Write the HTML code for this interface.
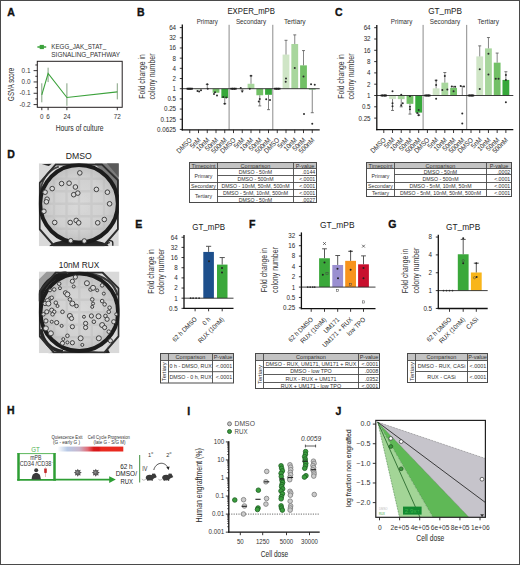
<!DOCTYPE html>
<html><head><meta charset="utf-8"><style>
html,body{margin:0;padding:0;background:#fff;}
svg{display:block;font-family:"Liberation Sans",sans-serif;}
</style></head><body>
<svg width="520" height="565" viewBox="0 0 520 565">
<rect x="0" y="0" width="520" height="565" fill="#fff"/>
<text x="7.30" y="16.20" font-size="10.5" font-weight="bold" fill="#111" stroke="#111" stroke-width="0.35">A</text>
<line x1="37.40" y1="47.00" x2="46.20" y2="47.00" stroke="#3ca23c" stroke-width="1.5"/>
<rect x="39.70" y="44.90" width="4.20" height="4.20" fill="#3ca23c"/>
<text x="51.30" y="49.00" font-size="6.6" fill="#333" textLength="54.80" lengthAdjust="spacingAndGlyphs">KEGG<tspan dy="-0.73">_</tspan><tspan dy="0.73">​</tspan>JAK<tspan dy="-0.73">_</tspan><tspan dy="0.73">​</tspan>STAT<tspan dy="-0.73">_</tspan><tspan dy="0.73">​</tspan></text>
<text x="51.30" y="56.80" font-size="6.6" fill="#333" textLength="68.80" lengthAdjust="spacingAndGlyphs">SIGNALING<tspan dy="-0.73">_</tspan><tspan dy="0.73">​</tspan>PATHWAY</text>
<rect x="37.30" y="61.30" width="84.90" height="46.00" fill="none" stroke="#231f20" stroke-width="1.0"/>
<line x1="35.30" y1="64.97" x2="37.30" y2="64.97" stroke="#231f20" stroke-width="0.9"/>
<line x1="33.60" y1="70.63" x2="37.30" y2="70.63" stroke="#231f20" stroke-width="0.9"/>
<line x1="35.30" y1="76.29" x2="37.30" y2="76.29" stroke="#231f20" stroke-width="0.9"/>
<line x1="33.60" y1="81.95" x2="37.30" y2="81.95" stroke="#231f20" stroke-width="0.9"/>
<line x1="35.30" y1="87.61" x2="37.30" y2="87.61" stroke="#231f20" stroke-width="0.9"/>
<line x1="33.60" y1="93.27" x2="37.30" y2="93.27" stroke="#231f20" stroke-width="0.9"/>
<line x1="35.30" y1="98.93" x2="37.30" y2="98.93" stroke="#231f20" stroke-width="0.9"/>
<line x1="33.60" y1="104.59" x2="37.30" y2="104.59" stroke="#231f20" stroke-width="0.9"/>
<text x="30.50" y="72.83" font-size="6.4" text-anchor="end" fill="#333">0.1</text>
<text x="30.50" y="84.15" font-size="6.4" text-anchor="end" fill="#333">0.0</text>
<text x="30.50" y="95.47" font-size="6.4" text-anchor="end" fill="#333">-0.1</text>
<text x="30.50" y="106.79" font-size="6.4" text-anchor="end" fill="#333">-0.2</text>
<line x1="41.80" y1="107.30" x2="41.80" y2="110.20" stroke="#231f20" stroke-width="0.9"/>
<text x="41.80" y="119.30" font-size="6.3" text-anchor="middle" fill="#333">0</text>
<line x1="48.10" y1="107.30" x2="48.10" y2="110.20" stroke="#231f20" stroke-width="0.9"/>
<text x="48.10" y="119.30" font-size="6.3" text-anchor="middle" fill="#333">6</text>
<line x1="66.90" y1="107.30" x2="66.90" y2="110.20" stroke="#231f20" stroke-width="0.9"/>
<text x="66.90" y="119.30" font-size="6.3" text-anchor="middle" fill="#333">24</text>
<line x1="117.30" y1="107.30" x2="117.30" y2="110.20" stroke="#231f20" stroke-width="0.9"/>
<text x="117.30" y="119.30" font-size="6.3" text-anchor="middle" fill="#333">72</text>
<text x="79.60" y="131.20" font-size="9.0" text-anchor="middle" fill="#333" stroke="#333" stroke-width="0.05" textLength="47.80" lengthAdjust="spacingAndGlyphs">Hours of culture</text>
<text x="0" y="0" font-size="9.0" text-anchor="middle" fill="#333" stroke="#333" stroke-width="0.05" textLength="33.10" lengthAdjust="spacingAndGlyphs" transform="translate(14.00,84.35) rotate(-90)">GSVA score</text>
<line x1="41.80" y1="83.30" x2="41.80" y2="102.30" stroke="#4f7a4c" stroke-width="0.7"/>
<line x1="48.10" y1="67.70" x2="48.10" y2="82.10" stroke="#4f7a4c" stroke-width="0.7"/>
<line x1="66.90" y1="83.30" x2="66.90" y2="105.80" stroke="#4f7a4c" stroke-width="0.7"/>
<line x1="117.30" y1="83.30" x2="117.30" y2="99.40" stroke="#4f7a4c" stroke-width="0.7"/>
<path d="M41.8,94.8 L48.1,73.5 L66.9,97.5 L117.3,91.9" fill="none" stroke="#3ca23c" stroke-width="1.1"/>
<text x="137.00" y="16.40" font-size="10.5" font-weight="bold" fill="#111" stroke="#111" stroke-width="0.35">B</text>
<text x="227.40" y="14.00" font-size="8.3" fill="#222" stroke="#222" stroke-width="0.03" textLength="47.60" lengthAdjust="spacingAndGlyphs">EXPER<tspan dy="-0.91">_</tspan><tspan dy="0.91">​</tspan>mPB</text>
<text x="196.70" y="24.20" font-size="6.7" fill="#333" textLength="21.10" lengthAdjust="spacingAndGlyphs">Primary</text>
<text x="235.90" y="24.20" font-size="6.7" fill="#333" textLength="30.20" lengthAdjust="spacingAndGlyphs">Secondary</text>
<text x="283.90" y="24.20" font-size="6.7" fill="#333" textLength="21.80" lengthAdjust="spacingAndGlyphs">Tertiary</text>
<line x1="229.10" y1="24.80" x2="229.10" y2="129.80" stroke="#8c8c8c" stroke-width="1.0"/>
<line x1="272.80" y1="24.80" x2="272.80" y2="129.80" stroke="#8c8c8c" stroke-width="1.0"/>
<line x1="179.80" y1="27.62" x2="182.30" y2="27.62" stroke="#231f20" stroke-width="0.9"/>
<text x="176.10" y="30.02" font-size="6.8" text-anchor="end" fill="#2a2a2a" textLength="6.96" lengthAdjust="spacingAndGlyphs">64</text>
<line x1="179.80" y1="37.80" x2="182.30" y2="37.80" stroke="#231f20" stroke-width="0.9"/>
<text x="176.10" y="40.20" font-size="6.8" text-anchor="end" fill="#2a2a2a" textLength="6.96" lengthAdjust="spacingAndGlyphs">32</text>
<line x1="179.80" y1="47.98" x2="182.30" y2="47.98" stroke="#231f20" stroke-width="0.9"/>
<text x="176.10" y="50.38" font-size="6.8" text-anchor="end" fill="#2a2a2a" textLength="6.96" lengthAdjust="spacingAndGlyphs">16</text>
<line x1="179.80" y1="58.16" x2="182.30" y2="58.16" stroke="#231f20" stroke-width="0.9"/>
<text x="176.10" y="60.56" font-size="6.8" text-anchor="end" fill="#2a2a2a" textLength="3.48" lengthAdjust="spacingAndGlyphs">8</text>
<line x1="179.80" y1="68.34" x2="182.30" y2="68.34" stroke="#231f20" stroke-width="0.9"/>
<text x="176.10" y="70.74" font-size="6.8" text-anchor="end" fill="#2a2a2a" textLength="3.48" lengthAdjust="spacingAndGlyphs">4</text>
<line x1="179.80" y1="78.52" x2="182.30" y2="78.52" stroke="#231f20" stroke-width="0.9"/>
<text x="176.10" y="80.92" font-size="6.8" text-anchor="end" fill="#2a2a2a" textLength="3.48" lengthAdjust="spacingAndGlyphs">2</text>
<line x1="179.80" y1="88.70" x2="182.30" y2="88.70" stroke="#231f20" stroke-width="0.9"/>
<text x="176.10" y="91.10" font-size="6.8" text-anchor="end" fill="#2a2a2a" textLength="3.48" lengthAdjust="spacingAndGlyphs">1</text>
<line x1="179.80" y1="98.88" x2="182.30" y2="98.88" stroke="#231f20" stroke-width="0.9"/>
<text x="176.10" y="101.28" font-size="6.8" text-anchor="end" fill="#2a2a2a" textLength="8.70" lengthAdjust="spacingAndGlyphs">0.5</text>
<line x1="179.80" y1="109.06" x2="182.30" y2="109.06" stroke="#231f20" stroke-width="0.9"/>
<text x="176.10" y="111.46" font-size="6.8" text-anchor="end" fill="#2a2a2a" textLength="12.17" lengthAdjust="spacingAndGlyphs">0.25</text>
<line x1="179.80" y1="119.24" x2="182.30" y2="119.24" stroke="#231f20" stroke-width="0.9"/>
<text x="176.10" y="121.64" font-size="6.8" text-anchor="end" fill="#2a2a2a" textLength="15.65" lengthAdjust="spacingAndGlyphs">0.125</text>
<line x1="179.80" y1="129.42" x2="182.30" y2="129.42" stroke="#231f20" stroke-width="0.9"/>
<text x="176.10" y="131.82" font-size="6.8" text-anchor="end" fill="#2a2a2a" textLength="19.13" lengthAdjust="spacingAndGlyphs">0.0625</text>
<text x="0" y="0" font-size="9.0" text-anchor="middle" fill="#333" textLength="44.50" lengthAdjust="spacingAndGlyphs" transform="translate(144.70,76.50) rotate(-90)">Fold change in</text>
<text x="0" y="0" font-size="9.0" text-anchor="middle" fill="#333" textLength="46.00" lengthAdjust="spacingAndGlyphs" transform="translate(154.70,76.40) rotate(-90)">colony number</text>
<rect x="195.10" y="88.70" width="6.80" height="0.75" fill="#cfe5c6"/>
<rect x="203.85" y="88.70" width="6.80" height="0.00" fill="#a8d69d"/>
<rect x="212.60" y="88.70" width="6.80" height="4.03" fill="#72c066"/>
<rect x="221.35" y="88.70" width="6.80" height="9.32" fill="#36a83a"/>
<rect x="238.85" y="88.70" width="6.80" height="0.45" fill="#cfe5c6"/>
<rect x="247.60" y="83.76" width="6.80" height="4.94" fill="#a8d69d"/>
<rect x="256.35" y="88.70" width="6.80" height="6.55" fill="#72c066"/>
<rect x="265.10" y="88.70" width="6.80" height="6.10" fill="#36a83a"/>
<rect x="282.60" y="54.59" width="6.80" height="34.11" fill="#cfe5c6"/>
<rect x="291.35" y="43.99" width="6.80" height="44.71" fill="#a8d69d"/>
<rect x="300.10" y="65.36" width="6.80" height="23.34" fill="#72c066"/>
<rect x="308.85" y="88.70" width="6.80" height="0.75" fill="#36a83a"/>
<line x1="207.25" y1="88.70" x2="207.25" y2="84.40" stroke="#666" stroke-width="0.8"/>
<line x1="205.75" y1="84.40" x2="208.75" y2="84.40" stroke="#555" stroke-width="0.8"/>
<line x1="224.75" y1="98.02" x2="224.75" y2="103.70" stroke="#666" stroke-width="0.8"/>
<line x1="223.25" y1="103.70" x2="226.25" y2="103.70" stroke="#555" stroke-width="0.8"/>
<line x1="251.00" y1="83.76" x2="251.00" y2="75.84" stroke="#666" stroke-width="0.8"/>
<line x1="249.50" y1="75.84" x2="252.50" y2="75.84" stroke="#555" stroke-width="0.8"/>
<line x1="259.75" y1="95.25" x2="259.75" y2="105.90" stroke="#666" stroke-width="0.8"/>
<line x1="258.25" y1="105.90" x2="261.25" y2="105.90" stroke="#555" stroke-width="0.8"/>
<line x1="268.50" y1="94.80" x2="268.50" y2="109.66" stroke="#666" stroke-width="0.8"/>
<line x1="267.00" y1="109.66" x2="270.00" y2="109.66" stroke="#555" stroke-width="0.8"/>
<line x1="286.00" y1="54.59" x2="286.00" y2="40.30" stroke="#666" stroke-width="0.8"/>
<line x1="284.50" y1="40.30" x2="287.50" y2="40.30" stroke="#555" stroke-width="0.8"/>
<line x1="294.75" y1="43.99" x2="294.75" y2="34.89" stroke="#666" stroke-width="0.8"/>
<line x1="293.25" y1="34.89" x2="296.25" y2="34.89" stroke="#555" stroke-width="0.8"/>
<line x1="303.50" y1="65.36" x2="303.50" y2="50.58" stroke="#666" stroke-width="0.8"/>
<line x1="302.00" y1="50.58" x2="305.00" y2="50.58" stroke="#555" stroke-width="0.8"/>
<line x1="312.25" y1="89.45" x2="312.25" y2="112.71" stroke="#666" stroke-width="0.8"/>
<line x1="310.75" y1="112.71" x2="313.75" y2="112.71" stroke="#555" stroke-width="0.8"/>
<line x1="242.25" y1="89.15" x2="242.25" y2="90.25" stroke="#666" stroke-width="0.8"/>
<line x1="240.75" y1="90.25" x2="243.75" y2="90.25" stroke="#555" stroke-width="0.8"/>
<circle cx="188.15" cy="88.70" r="1.0" fill="#2b2b2b"/>
<circle cx="189.75" cy="88.70" r="1.0" fill="#2b2b2b"/>
<circle cx="190.95" cy="88.70" r="1.0" fill="#2b2b2b"/>
<circle cx="197.50" cy="91.09" r="1.0" fill="#2b2b2b"/>
<circle cx="199.10" cy="91.61" r="1.0" fill="#2b2b2b"/>
<circle cx="201.00" cy="90.25" r="1.0" fill="#2b2b2b"/>
<circle cx="207.25" cy="84.29" r="1.0" fill="#2b2b2b"/>
<circle cx="207.75" cy="88.70" r="1.0" fill="#2b2b2b"/>
<circle cx="215.00" cy="92.35" r="1.0" fill="#2b2b2b"/>
<circle cx="217.00" cy="95.49" r="1.0" fill="#2b2b2b"/>
<circle cx="214.00" cy="93.94" r="1.0" fill="#2b2b2b"/>
<circle cx="223.25" cy="96.96" r="1.0" fill="#2b2b2b"/>
<circle cx="226.25" cy="97.48" r="1.0" fill="#2b2b2b"/>
<circle cx="224.75" cy="103.70" r="1.0" fill="#2b2b2b"/>
<circle cx="232.50" cy="88.70" r="1.0" fill="#2b2b2b"/>
<circle cx="234.50" cy="88.70" r="1.0" fill="#2b2b2b"/>
<circle cx="242.25" cy="91.61" r="1.0" fill="#2b2b2b"/>
<circle cx="240.75" cy="87.98" r="1.0" fill="#2b2b2b"/>
<circle cx="251.00" cy="75.84" r="1.0" fill="#2b2b2b"/>
<circle cx="249.80" cy="88.70" r="1.0" fill="#2b2b2b"/>
<circle cx="259.75" cy="98.88" r="1.0" fill="#2b2b2b"/>
<circle cx="258.75" cy="101.44" r="1.0" fill="#2b2b2b"/>
<circle cx="266.20" cy="99.18" r="1.0" fill="#2b2b2b"/>
<circle cx="270.00" cy="100.10" r="1.0" fill="#2b2b2b"/>
<circle cx="276.25" cy="88.70" r="1.0" fill="#2b2b2b"/>
<circle cx="278.25" cy="88.70" r="1.0" fill="#2b2b2b"/>
<circle cx="286.00" cy="78.52" r="1.0" fill="#2b2b2b"/>
<circle cx="285.70" cy="81.80" r="1.0" fill="#2b2b2b"/>
<circle cx="294.75" cy="67.98" r="1.0" fill="#2b2b2b"/>
<circle cx="303.50" cy="76.47" r="1.0" fill="#2b2b2b"/>
<circle cx="304.00" cy="113.88" r="1.0" fill="#2b2b2b"/>
<circle cx="311.05" cy="84.29" r="1.0" fill="#2b2b2b"/>
<circle cx="312.25" cy="123.74" r="1.0" fill="#2b2b2b"/>
<circle cx="314.75" cy="84.85" r="1.0" fill="#2b2b2b"/>
<line x1="182.30" y1="88.70" x2="319.70" y2="88.70" stroke="#2a2a2a" stroke-width="0.9"/>
<rect x="186.55" y="87.80" width="6.40" height="1.80" fill="#1e1e1e"/>
<rect x="230.30" y="87.80" width="6.40" height="1.80" fill="#1e1e1e"/>
<rect x="274.05" y="87.80" width="6.40" height="1.80" fill="#1e1e1e"/>
<line x1="182.30" y1="24.60" x2="182.30" y2="130.40" stroke="#111" stroke-width="1.3"/>
<line x1="181.70" y1="129.80" x2="319.70" y2="129.80" stroke="#111" stroke-width="1.3"/>
<line x1="189.75" y1="129.80" x2="189.75" y2="133.10" stroke="#231f20" stroke-width="0.9"/>
<text x="0" y="0" font-size="7.0" text-anchor="end" fill="#2a2a2a" textLength="18.48" lengthAdjust="spacingAndGlyphs" transform="translate(192.35,140.60) rotate(-45)">DMSO</text>
<line x1="198.50" y1="129.80" x2="198.50" y2="133.10" stroke="#231f20" stroke-width="0.9"/>
<text x="0" y="0" font-size="7.0" text-anchor="end" fill="#2a2a2a" textLength="11.98" lengthAdjust="spacingAndGlyphs" transform="translate(201.10,140.60) rotate(-45)">5nM</text>
<line x1="207.25" y1="129.80" x2="207.25" y2="133.10" stroke="#231f20" stroke-width="0.9"/>
<text x="0" y="0" font-size="7.0" text-anchor="end" fill="#2a2a2a" textLength="15.41" lengthAdjust="spacingAndGlyphs" transform="translate(209.85,140.60) rotate(-45)">10nM</text>
<line x1="216.00" y1="129.80" x2="216.00" y2="133.10" stroke="#231f20" stroke-width="0.9"/>
<text x="0" y="0" font-size="7.0" text-anchor="end" fill="#2a2a2a" textLength="15.41" lengthAdjust="spacingAndGlyphs" transform="translate(218.60,140.60) rotate(-45)">50nM</text>
<line x1="224.75" y1="129.80" x2="224.75" y2="133.10" stroke="#231f20" stroke-width="0.9"/>
<text x="0" y="0" font-size="7.0" text-anchor="end" fill="#2a2a2a" textLength="18.83" lengthAdjust="spacingAndGlyphs" transform="translate(227.35,140.60) rotate(-45)">500nM</text>
<line x1="233.50" y1="129.80" x2="233.50" y2="133.10" stroke="#231f20" stroke-width="0.9"/>
<text x="0" y="0" font-size="7.0" text-anchor="end" fill="#2a2a2a" textLength="18.48" lengthAdjust="spacingAndGlyphs" transform="translate(236.10,140.60) rotate(-45)">DMSO</text>
<line x1="242.25" y1="129.80" x2="242.25" y2="133.10" stroke="#231f20" stroke-width="0.9"/>
<text x="0" y="0" font-size="7.0" text-anchor="end" fill="#2a2a2a" textLength="11.98" lengthAdjust="spacingAndGlyphs" transform="translate(244.85,140.60) rotate(-45)">5nM</text>
<line x1="251.00" y1="129.80" x2="251.00" y2="133.10" stroke="#231f20" stroke-width="0.9"/>
<text x="0" y="0" font-size="7.0" text-anchor="end" fill="#2a2a2a" textLength="15.41" lengthAdjust="spacingAndGlyphs" transform="translate(253.60,140.60) rotate(-45)">10nM</text>
<line x1="259.75" y1="129.80" x2="259.75" y2="133.10" stroke="#231f20" stroke-width="0.9"/>
<text x="0" y="0" font-size="7.0" text-anchor="end" fill="#2a2a2a" textLength="15.41" lengthAdjust="spacingAndGlyphs" transform="translate(262.35,140.60) rotate(-45)">50nM</text>
<line x1="268.50" y1="129.80" x2="268.50" y2="133.10" stroke="#231f20" stroke-width="0.9"/>
<text x="0" y="0" font-size="7.0" text-anchor="end" fill="#2a2a2a" textLength="18.83" lengthAdjust="spacingAndGlyphs" transform="translate(271.10,140.60) rotate(-45)">500nM</text>
<line x1="277.25" y1="129.80" x2="277.25" y2="133.10" stroke="#231f20" stroke-width="0.9"/>
<text x="0" y="0" font-size="7.0" text-anchor="end" fill="#2a2a2a" textLength="18.48" lengthAdjust="spacingAndGlyphs" transform="translate(279.85,140.60) rotate(-45)">DMSO</text>
<line x1="286.00" y1="129.80" x2="286.00" y2="133.10" stroke="#231f20" stroke-width="0.9"/>
<text x="0" y="0" font-size="7.0" text-anchor="end" fill="#2a2a2a" textLength="11.98" lengthAdjust="spacingAndGlyphs" transform="translate(288.60,140.60) rotate(-45)">5nM</text>
<line x1="294.75" y1="129.80" x2="294.75" y2="133.10" stroke="#231f20" stroke-width="0.9"/>
<text x="0" y="0" font-size="7.0" text-anchor="end" fill="#2a2a2a" textLength="15.41" lengthAdjust="spacingAndGlyphs" transform="translate(297.35,140.60) rotate(-45)">10nM</text>
<line x1="303.50" y1="129.80" x2="303.50" y2="133.10" stroke="#231f20" stroke-width="0.9"/>
<text x="0" y="0" font-size="7.0" text-anchor="end" fill="#2a2a2a" textLength="15.41" lengthAdjust="spacingAndGlyphs" transform="translate(306.10,140.60) rotate(-45)">50nM</text>
<line x1="312.25" y1="129.80" x2="312.25" y2="133.10" stroke="#231f20" stroke-width="0.9"/>
<text x="0" y="0" font-size="7.0" text-anchor="end" fill="#2a2a2a" textLength="18.83" lengthAdjust="spacingAndGlyphs" transform="translate(314.85,140.60) rotate(-45)">500nM</text>
<text x="334.90" y="16.30" font-size="10.5" font-weight="bold" fill="#111" stroke="#111" stroke-width="0.35">C</text>
<text x="428.20" y="14.10" font-size="8.3" fill="#222" stroke="#222" stroke-width="0.03" textLength="33.80" lengthAdjust="spacingAndGlyphs">GT<tspan dy="-0.91">_</tspan><tspan dy="0.91">​</tspan>mPB</text>
<text x="390.80" y="24.40" font-size="6.7" fill="#333" textLength="21.50" lengthAdjust="spacingAndGlyphs">Primary</text>
<text x="429.80" y="24.40" font-size="6.7" fill="#333" textLength="30.40" lengthAdjust="spacingAndGlyphs">Secondary</text>
<text x="477.50" y="24.40" font-size="6.7" fill="#333" textLength="21.50" lengthAdjust="spacingAndGlyphs">Tertiary</text>
<line x1="423.10" y1="24.90" x2="423.10" y2="129.70" stroke="#8c8c8c" stroke-width="1.0"/>
<line x1="466.70" y1="24.90" x2="466.70" y2="129.70" stroke="#8c8c8c" stroke-width="1.0"/>
<line x1="374.20" y1="27.70" x2="376.80" y2="27.70" stroke="#231f20" stroke-width="0.9"/>
<text x="370.60" y="30.10" font-size="6.8" text-anchor="end" fill="#2a2a2a" textLength="6.96" lengthAdjust="spacingAndGlyphs">64</text>
<line x1="374.20" y1="39.00" x2="376.80" y2="39.00" stroke="#231f20" stroke-width="0.9"/>
<text x="370.60" y="41.40" font-size="6.8" text-anchor="end" fill="#2a2a2a" textLength="6.96" lengthAdjust="spacingAndGlyphs">32</text>
<line x1="374.20" y1="50.30" x2="376.80" y2="50.30" stroke="#231f20" stroke-width="0.9"/>
<text x="370.60" y="52.70" font-size="6.8" text-anchor="end" fill="#2a2a2a" textLength="6.96" lengthAdjust="spacingAndGlyphs">16</text>
<line x1="374.20" y1="61.60" x2="376.80" y2="61.60" stroke="#231f20" stroke-width="0.9"/>
<text x="370.60" y="64.00" font-size="6.8" text-anchor="end" fill="#2a2a2a" textLength="3.48" lengthAdjust="spacingAndGlyphs">8</text>
<line x1="374.20" y1="72.90" x2="376.80" y2="72.90" stroke="#231f20" stroke-width="0.9"/>
<text x="370.60" y="75.30" font-size="6.8" text-anchor="end" fill="#2a2a2a" textLength="3.48" lengthAdjust="spacingAndGlyphs">4</text>
<line x1="374.20" y1="84.20" x2="376.80" y2="84.20" stroke="#231f20" stroke-width="0.9"/>
<text x="370.60" y="86.60" font-size="6.8" text-anchor="end" fill="#2a2a2a" textLength="3.48" lengthAdjust="spacingAndGlyphs">2</text>
<line x1="374.20" y1="95.50" x2="376.80" y2="95.50" stroke="#231f20" stroke-width="0.9"/>
<text x="370.60" y="97.90" font-size="6.8" text-anchor="end" fill="#2a2a2a" textLength="3.48" lengthAdjust="spacingAndGlyphs">1</text>
<line x1="374.20" y1="106.80" x2="376.80" y2="106.80" stroke="#231f20" stroke-width="0.9"/>
<text x="370.60" y="109.20" font-size="6.8" text-anchor="end" fill="#2a2a2a" textLength="8.70" lengthAdjust="spacingAndGlyphs">0.5</text>
<line x1="374.20" y1="118.10" x2="376.80" y2="118.10" stroke="#231f20" stroke-width="0.9"/>
<text x="370.60" y="120.50" font-size="6.8" text-anchor="end" fill="#2a2a2a" textLength="12.17" lengthAdjust="spacingAndGlyphs">0.25</text>
<text x="0" y="0" font-size="9.0" text-anchor="middle" fill="#333" textLength="44.50" lengthAdjust="spacingAndGlyphs" transform="translate(343.60,76.50) rotate(-90)">Fold change in</text>
<text x="0" y="0" font-size="9.0" text-anchor="middle" fill="#333" textLength="46.00" lengthAdjust="spacingAndGlyphs" transform="translate(353.70,76.40) rotate(-90)">colony number</text>
<rect x="389.12" y="95.50" width="6.80" height="3.44" fill="#cfe5c6"/>
<rect x="397.84" y="95.50" width="6.80" height="3.64" fill="#a8d69d"/>
<rect x="406.56" y="95.50" width="6.80" height="8.33" fill="#72c066"/>
<rect x="415.28" y="95.50" width="6.80" height="17.11" fill="#36a83a"/>
<rect x="432.72" y="88.36" width="6.80" height="7.14" fill="#cfe5c6"/>
<rect x="441.44" y="82.65" width="6.80" height="12.85" fill="#a8d69d"/>
<rect x="450.16" y="87.84" width="6.80" height="7.66" fill="#72c066"/>
<rect x="476.32" y="56.41" width="6.80" height="39.09" fill="#cfe5c6"/>
<rect x="485.04" y="48.38" width="6.80" height="47.12" fill="#a8d69d"/>
<rect x="493.76" y="62.65" width="6.80" height="32.85" fill="#72c066"/>
<rect x="502.48" y="79.92" width="6.80" height="15.58" fill="#36a83a"/>
<line x1="392.52" y1="98.94" x2="392.52" y2="110.44" stroke="#666" stroke-width="0.8"/>
<line x1="391.02" y1="110.44" x2="394.02" y2="110.44" stroke="#555" stroke-width="0.8"/>
<line x1="401.24" y1="99.14" x2="401.24" y2="106.80" stroke="#666" stroke-width="0.8"/>
<line x1="399.74" y1="106.80" x2="402.74" y2="106.80" stroke="#555" stroke-width="0.8"/>
<line x1="409.96" y1="103.83" x2="409.96" y2="114.08" stroke="#666" stroke-width="0.8"/>
<line x1="408.46" y1="114.08" x2="411.46" y2="114.08" stroke="#555" stroke-width="0.8"/>
<line x1="418.68" y1="112.61" x2="418.68" y2="115.13" stroke="#666" stroke-width="0.8"/>
<line x1="417.18" y1="115.13" x2="420.18" y2="115.13" stroke="#555" stroke-width="0.8"/>
<line x1="436.12" y1="88.36" x2="436.12" y2="80.24" stroke="#666" stroke-width="0.8"/>
<line x1="434.62" y1="80.24" x2="437.62" y2="80.24" stroke="#555" stroke-width="0.8"/>
<line x1="444.84" y1="82.65" x2="444.84" y2="72.50" stroke="#666" stroke-width="0.8"/>
<line x1="443.34" y1="72.50" x2="446.34" y2="72.50" stroke="#555" stroke-width="0.8"/>
<line x1="453.56" y1="87.84" x2="453.56" y2="86.38" stroke="#666" stroke-width="0.8"/>
<line x1="452.06" y1="86.38" x2="455.06" y2="86.38" stroke="#555" stroke-width="0.8"/>
<line x1="462.28" y1="95.50" x2="462.28" y2="86.38" stroke="#666" stroke-width="0.8"/>
<line x1="460.78" y1="86.38" x2="463.78" y2="86.38" stroke="#555" stroke-width="0.8"/>
<line x1="479.72" y1="56.41" x2="479.72" y2="45.87" stroke="#666" stroke-width="0.8"/>
<line x1="478.22" y1="45.87" x2="481.22" y2="45.87" stroke="#555" stroke-width="0.8"/>
<line x1="488.44" y1="48.38" x2="488.44" y2="37.54" stroke="#666" stroke-width="0.8"/>
<line x1="486.94" y1="37.54" x2="489.94" y2="37.54" stroke="#555" stroke-width="0.8"/>
<line x1="497.16" y1="62.65" x2="497.16" y2="53.07" stroke="#666" stroke-width="0.8"/>
<line x1="495.66" y1="53.07" x2="498.66" y2="53.07" stroke="#555" stroke-width="0.8"/>
<line x1="505.88" y1="79.92" x2="505.88" y2="71.72" stroke="#666" stroke-width="0.8"/>
<line x1="504.38" y1="71.72" x2="507.38" y2="71.72" stroke="#555" stroke-width="0.8"/>
<circle cx="382.30" cy="95.50" r="1.0" fill="#2b2b2b"/>
<circle cx="384.30" cy="95.50" r="1.0" fill="#2b2b2b"/>
<circle cx="385.30" cy="95.50" r="1.0" fill="#2b2b2b"/>
<circle cx="392.52" cy="91.22" r="1.0" fill="#2b2b2b"/>
<circle cx="392.52" cy="106.16" r="1.0" fill="#2b2b2b"/>
<circle cx="392.52" cy="103.29" r="1.0" fill="#2b2b2b"/>
<circle cx="401.24" cy="94.70" r="1.0" fill="#2b2b2b"/>
<circle cx="401.24" cy="105.25" r="1.0" fill="#2b2b2b"/>
<circle cx="402.74" cy="103.29" r="1.0" fill="#2b2b2b"/>
<circle cx="409.96" cy="96.17" r="1.0" fill="#2b2b2b"/>
<circle cx="409.96" cy="109.26" r="1.0" fill="#2b2b2b"/>
<circle cx="409.96" cy="106.80" r="1.0" fill="#2b2b2b"/>
<circle cx="418.68" cy="110.04" r="1.0" fill="#2b2b2b"/>
<circle cx="418.68" cy="115.13" r="1.0" fill="#2b2b2b"/>
<circle cx="417.18" cy="113.09" r="1.0" fill="#2b2b2b"/>
<circle cx="426.20" cy="95.50" r="1.0" fill="#2b2b2b"/>
<circle cx="427.90" cy="95.50" r="1.0" fill="#2b2b2b"/>
<circle cx="428.90" cy="95.50" r="1.0" fill="#2b2b2b"/>
<circle cx="436.12" cy="98.74" r="1.0" fill="#2b2b2b"/>
<circle cx="436.12" cy="85.04" r="1.0" fill="#2b2b2b"/>
<circle cx="436.12" cy="80.56" r="1.0" fill="#2b2b2b"/>
<circle cx="442.34" cy="90.01" r="1.0" fill="#2b2b2b"/>
<circle cx="447.34" cy="89.44" r="1.0" fill="#2b2b2b"/>
<circle cx="444.84" cy="76.04" r="1.0" fill="#2b2b2b"/>
<circle cx="451.76" cy="86.38" r="1.0" fill="#2b2b2b"/>
<circle cx="455.16" cy="86.85" r="1.0" fill="#2b2b2b"/>
<circle cx="453.56" cy="91.22" r="1.0" fill="#2b2b2b"/>
<circle cx="460.68" cy="85.92" r="1.0" fill="#2b2b2b"/>
<circle cx="463.98" cy="86.38" r="1.0" fill="#2b2b2b"/>
<circle cx="462.28" cy="113.57" r="1.0" fill="#2b2b2b"/>
<circle cx="462.28" cy="123.46" r="1.0" fill="#2b2b2b"/>
<circle cx="469.80" cy="95.50" r="1.0" fill="#2b2b2b"/>
<circle cx="471.40" cy="95.50" r="1.0" fill="#2b2b2b"/>
<circle cx="472.60" cy="95.50" r="1.0" fill="#2b2b2b"/>
<circle cx="479.72" cy="88.89" r="1.0" fill="#2b2b2b"/>
<circle cx="479.72" cy="69.26" r="1.0" fill="#2b2b2b"/>
<circle cx="488.44" cy="53.69" r="1.0" fill="#2b2b2b"/>
<circle cx="488.44" cy="74.62" r="1.0" fill="#2b2b2b"/>
<circle cx="495.76" cy="78.71" r="1.0" fill="#2b2b2b"/>
<circle cx="498.56" cy="78.71" r="1.0" fill="#2b2b2b"/>
<circle cx="505.88" cy="79.92" r="1.0" fill="#2b2b2b"/>
<circle cx="505.88" cy="102.27" r="1.0" fill="#2b2b2b"/>
<circle cx="505.88" cy="75.08" r="1.0" fill="#2b2b2b"/>
<line x1="376.80" y1="95.50" x2="513.30" y2="95.50" stroke="#2a2a2a" stroke-width="0.9"/>
<rect x="380.60" y="94.60" width="6.40" height="1.80" fill="#1e1e1e"/>
<rect x="424.20" y="94.60" width="6.40" height="1.80" fill="#1e1e1e"/>
<rect x="467.80" y="94.60" width="6.40" height="1.80" fill="#1e1e1e"/>
<line x1="376.80" y1="24.90" x2="376.80" y2="130.30" stroke="#111" stroke-width="1.3"/>
<line x1="376.20" y1="129.70" x2="513.30" y2="129.70" stroke="#111" stroke-width="1.3"/>
<line x1="383.80" y1="129.70" x2="383.80" y2="133.00" stroke="#231f20" stroke-width="0.9"/>
<text x="0" y="0" font-size="7.0" text-anchor="end" fill="#2a2a2a" textLength="18.48" lengthAdjust="spacingAndGlyphs" transform="translate(386.40,140.50) rotate(-45)">DMSO</text>
<line x1="392.52" y1="129.70" x2="392.52" y2="133.00" stroke="#231f20" stroke-width="0.9"/>
<text x="0" y="0" font-size="7.0" text-anchor="end" fill="#2a2a2a" textLength="11.98" lengthAdjust="spacingAndGlyphs" transform="translate(395.12,140.50) rotate(-45)">5nM</text>
<line x1="401.24" y1="129.70" x2="401.24" y2="133.00" stroke="#231f20" stroke-width="0.9"/>
<text x="0" y="0" font-size="7.0" text-anchor="end" fill="#2a2a2a" textLength="15.41" lengthAdjust="spacingAndGlyphs" transform="translate(403.84,140.50) rotate(-45)">10nM</text>
<line x1="409.96" y1="129.70" x2="409.96" y2="133.00" stroke="#231f20" stroke-width="0.9"/>
<text x="0" y="0" font-size="7.0" text-anchor="end" fill="#2a2a2a" textLength="15.41" lengthAdjust="spacingAndGlyphs" transform="translate(412.56,140.50) rotate(-45)">50nM</text>
<line x1="418.68" y1="129.70" x2="418.68" y2="133.00" stroke="#231f20" stroke-width="0.9"/>
<text x="0" y="0" font-size="7.0" text-anchor="end" fill="#2a2a2a" textLength="18.83" lengthAdjust="spacingAndGlyphs" transform="translate(421.28,140.50) rotate(-45)">500nM</text>
<line x1="427.40" y1="129.70" x2="427.40" y2="133.00" stroke="#231f20" stroke-width="0.9"/>
<text x="0" y="0" font-size="7.0" text-anchor="end" fill="#2a2a2a" textLength="18.48" lengthAdjust="spacingAndGlyphs" transform="translate(430.00,140.50) rotate(-45)">DMSO</text>
<line x1="436.12" y1="129.70" x2="436.12" y2="133.00" stroke="#231f20" stroke-width="0.9"/>
<text x="0" y="0" font-size="7.0" text-anchor="end" fill="#2a2a2a" textLength="11.98" lengthAdjust="spacingAndGlyphs" transform="translate(438.72,140.50) rotate(-45)">5nM</text>
<line x1="444.84" y1="129.70" x2="444.84" y2="133.00" stroke="#231f20" stroke-width="0.9"/>
<text x="0" y="0" font-size="7.0" text-anchor="end" fill="#2a2a2a" textLength="15.41" lengthAdjust="spacingAndGlyphs" transform="translate(447.44,140.50) rotate(-45)">10nM</text>
<line x1="453.56" y1="129.70" x2="453.56" y2="133.00" stroke="#231f20" stroke-width="0.9"/>
<text x="0" y="0" font-size="7.0" text-anchor="end" fill="#2a2a2a" textLength="15.41" lengthAdjust="spacingAndGlyphs" transform="translate(456.16,140.50) rotate(-45)">50nM</text>
<line x1="462.28" y1="129.70" x2="462.28" y2="133.00" stroke="#231f20" stroke-width="0.9"/>
<text x="0" y="0" font-size="7.0" text-anchor="end" fill="#2a2a2a" textLength="18.83" lengthAdjust="spacingAndGlyphs" transform="translate(464.88,140.50) rotate(-45)">500nM</text>
<line x1="471.00" y1="129.70" x2="471.00" y2="133.00" stroke="#231f20" stroke-width="0.9"/>
<text x="0" y="0" font-size="7.0" text-anchor="end" fill="#2a2a2a" textLength="18.48" lengthAdjust="spacingAndGlyphs" transform="translate(473.60,140.50) rotate(-45)">DMSO</text>
<line x1="479.72" y1="129.70" x2="479.72" y2="133.00" stroke="#231f20" stroke-width="0.9"/>
<text x="0" y="0" font-size="7.0" text-anchor="end" fill="#2a2a2a" textLength="11.98" lengthAdjust="spacingAndGlyphs" transform="translate(482.32,140.50) rotate(-45)">5nM</text>
<line x1="488.44" y1="129.70" x2="488.44" y2="133.00" stroke="#231f20" stroke-width="0.9"/>
<text x="0" y="0" font-size="7.0" text-anchor="end" fill="#2a2a2a" textLength="15.41" lengthAdjust="spacingAndGlyphs" transform="translate(491.04,140.50) rotate(-45)">10nM</text>
<line x1="497.16" y1="129.70" x2="497.16" y2="133.00" stroke="#231f20" stroke-width="0.9"/>
<text x="0" y="0" font-size="7.0" text-anchor="end" fill="#2a2a2a" textLength="15.41" lengthAdjust="spacingAndGlyphs" transform="translate(499.76,140.50) rotate(-45)">50nM</text>
<line x1="505.88" y1="129.70" x2="505.88" y2="133.00" stroke="#231f20" stroke-width="0.9"/>
<text x="0" y="0" font-size="7.0" text-anchor="end" fill="#2a2a2a" textLength="18.83" lengthAdjust="spacingAndGlyphs" transform="translate(508.48,140.50) rotate(-45)">500nM</text>
<text x="7.30" y="158.20" font-size="10.5" font-weight="bold" fill="#111" stroke="#111" stroke-width="0.35">D</text>
<text x="78.80" y="158.70" font-size="9.2" text-anchor="middle" fill="#222" textLength="26.00" lengthAdjust="spacingAndGlyphs">DMSO</text>
<text x="79.00" y="267.80" font-size="9.2" text-anchor="middle" fill="#222" textLength="40.40" lengthAdjust="spacingAndGlyphs">10nM RUX</text>
<defs><clipPath id="clipd1"><rect x="38.8" y="163.2" width="80.0" height="83.0"/></clipPath><clipPath id="cind1"><circle cx="79.0" cy="203.8" r="36.8"/></clipPath><radialGradient id="rgd1" cx="0.5" cy="0.5" r="0.5"><stop offset="0" stop-color="#d9d9d9"/><stop offset="0.7" stop-color="#d0d0d0"/><stop offset="1" stop-color="#c0c0c0"/></radialGradient></defs>
<g clip-path="url(#clipd1)">
<rect x="38.80" y="163.20" width="80.00" height="83.00" fill="#d9d9d9"/>
<path d="M94.8,163.2 L118.8,163.2 L118.8,193.2 Z" fill="#7a7a7a"/>
<path d="M106.8,163.2 L118.8,163.2 L118.8,177.2 Z" fill="#5a5a5a"/>
<path d="M41.8,164.2 L51.8,163.79999999999998 L48.8,166.0 Z" fill="#2a2a2a"/>
<path d="M39.8,195.2 Q41.8,172.2 58.8,166.7" fill="none" stroke="#444" stroke-width="1.8"/>
<path d="M49.0,246.2 Q55.0,239.2 79.0,239.7 Q103.0,239.2 109.0,246.2 Z" fill="#262626"/>
<path d="M106.8,244.7 q0,-4 3,-4 q3,0 3,2 l0,3 M109.8,242.7 q-2.5,0 -2.5,1.5" fill="none" stroke="#1a1a1a" stroke-width="1.3"/>
<polygon points="39.6,183.2 55.8,164.4 101.8,164.4 118.0,180.2 118.0,229.2 103.8,245.4 53.8,245.4 39.6,229.2" fill="none" stroke="#2e2e2e" stroke-width="2.0"/>
<circle cx="79.0" cy="203.8" r="38.8" fill="url(#rgd1)" stroke="#1c1c1c" stroke-width="4.0"/>
<g clip-path="url(#cind1)" opacity="0.28">
<line x1="41.50" y1="163.80" x2="41.50" y2="243.80" stroke="#b0b0b0" stroke-width="2.4"/>
<line x1="39.00" y1="166.30" x2="119.00" y2="166.30" stroke="#b0b0b0" stroke-width="2.4"/>
<line x1="54.00" y1="163.80" x2="54.00" y2="243.80" stroke="#b0b0b0" stroke-width="2.4"/>
<line x1="39.00" y1="178.80" x2="119.00" y2="178.80" stroke="#b0b0b0" stroke-width="2.4"/>
<line x1="66.50" y1="163.80" x2="66.50" y2="243.80" stroke="#b0b0b0" stroke-width="2.4"/>
<line x1="39.00" y1="191.30" x2="119.00" y2="191.30" stroke="#b0b0b0" stroke-width="2.4"/>
<line x1="79.00" y1="163.80" x2="79.00" y2="243.80" stroke="#b0b0b0" stroke-width="2.4"/>
<line x1="39.00" y1="203.80" x2="119.00" y2="203.80" stroke="#b0b0b0" stroke-width="2.4"/>
<line x1="91.50" y1="163.80" x2="91.50" y2="243.80" stroke="#b0b0b0" stroke-width="2.4"/>
<line x1="39.00" y1="216.30" x2="119.00" y2="216.30" stroke="#b0b0b0" stroke-width="2.4"/>
<line x1="104.00" y1="163.80" x2="104.00" y2="243.80" stroke="#b0b0b0" stroke-width="2.4"/>
<line x1="39.00" y1="228.80" x2="119.00" y2="228.80" stroke="#b0b0b0" stroke-width="2.4"/>
<line x1="116.50" y1="163.80" x2="116.50" y2="243.80" stroke="#b0b0b0" stroke-width="2.4"/>
<line x1="39.00" y1="241.30" x2="119.00" y2="241.30" stroke="#b0b0b0" stroke-width="2.4"/>
</g>
<circle cx="79.80" cy="172.90" r="2.3" fill="#d8d8d8" stroke="#3a3a3a" stroke-width="0.95"/>
<circle cx="61.60" cy="183.60" r="2.3" fill="#d8d8d8" stroke="#3a3a3a" stroke-width="0.95"/>
<circle cx="69.10" cy="183.20" r="2.3" fill="#d8d8d8" stroke="#3a3a3a" stroke-width="0.95"/>
<circle cx="75.40" cy="187.00" r="2.3" fill="#d8d8d8" stroke="#3a3a3a" stroke-width="0.95"/>
<circle cx="52.20" cy="188.60" r="2.3" fill="#d8d8d8" stroke="#3a3a3a" stroke-width="0.95"/>
<circle cx="45.10" cy="192.20" r="2.3" fill="#d8d8d8" stroke="#3a3a3a" stroke-width="0.95"/>
<circle cx="73.70" cy="194.70" r="2.3" fill="#d8d8d8" stroke="#3a3a3a" stroke-width="0.95"/>
<circle cx="77.80" cy="193.10" r="2.3" fill="#d8d8d8" stroke="#3a3a3a" stroke-width="0.95"/>
<circle cx="96.40" cy="189.40" r="2.3" fill="#d8d8d8" stroke="#3a3a3a" stroke-width="0.95"/>
<circle cx="107.40" cy="192.20" r="2.3" fill="#d8d8d8" stroke="#3a3a3a" stroke-width="0.95"/>
<circle cx="47.10" cy="199.20" r="2.3" fill="#d8d8d8" stroke="#3a3a3a" stroke-width="0.95"/>
<circle cx="46.40" cy="201.80" r="2.3" fill="#d8d8d8" stroke="#3a3a3a" stroke-width="0.95"/>
<circle cx="109.60" cy="203.80" r="2.3" fill="#d8d8d8" stroke="#3a3a3a" stroke-width="0.95"/>
<circle cx="43.90" cy="211.30" r="2.3" fill="#d8d8d8" stroke="#3a3a3a" stroke-width="0.95"/>
<circle cx="54.70" cy="222.50" r="2.3" fill="#d8d8d8" stroke="#3a3a3a" stroke-width="0.95"/>
<circle cx="70.20" cy="222.50" r="2.3" fill="#d8d8d8" stroke="#3a3a3a" stroke-width="0.95"/>
<circle cx="76.20" cy="220.40" r="2.3" fill="#d8d8d8" stroke="#3a3a3a" stroke-width="0.95"/>
<circle cx="78.70" cy="222.80" r="2.3" fill="#d8d8d8" stroke="#3a3a3a" stroke-width="0.95"/>
<circle cx="97.70" cy="222.80" r="2.3" fill="#d8d8d8" stroke="#3a3a3a" stroke-width="0.95"/>
<circle cx="104.30" cy="219.50" r="2.3" fill="#d8d8d8" stroke="#3a3a3a" stroke-width="0.95"/>
<circle cx="70.70" cy="240.70" r="2.3" fill="#d8d8d8" stroke="#3a3a3a" stroke-width="0.95"/>
<circle cx="84.30" cy="241.00" r="2.3" fill="#d8d8d8" stroke="#3a3a3a" stroke-width="0.95"/>
</g>
<defs><clipPath id="clipd2"><rect x="38.8" y="271.4" width="80.7" height="81.8"/></clipPath><clipPath id="cind2"><circle cx="79.3" cy="312.3" r="36.8"/></clipPath><radialGradient id="rgd2" cx="0.5" cy="0.5" r="0.5"><stop offset="0" stop-color="#d9d9d9"/><stop offset="0.7" stop-color="#d0d0d0"/><stop offset="1" stop-color="#c0c0c0"/></radialGradient></defs>
<g clip-path="url(#clipd2)">
<rect x="38.80" y="271.40" width="80.70" height="81.80" fill="#d9d9d9"/>
<path d="M38.8,295.4 L58.8,271.4 L46.8,271.4 L38.8,279.4 Z" fill="#9a9a9a"/>
<path d="M38.8,301.4 Q42.8,278.4 66.8,272.9" fill="none" stroke="#1e1e1e" stroke-width="5.0"/>
<path d="M40.8,329.2 Q43.8,348.2 62.8,351.7" fill="none" stroke="#262626" stroke-width="3.5"/>
<path d="M87.3,272.9 Q113.5,277.4 117.5,295.4" fill="none" stroke="#3a3a3a" stroke-width="2.2"/>
<path d="M115.5,341.2 A8,8 0 0,0 107.5,351.2" fill="none" stroke="#aaa" stroke-width="0.6"/>
<path d="M47.3,353.2 Q79.3,348.2 109.3,353.2 Z" fill="#262626"/>
<path d="M104.5,353.2 L107.5,348.2 L110.0,353.2 Z" fill="#222"/>
<polygon points="39.6,291.4 55.8,272.6 102.5,272.6 118.7,288.4 118.7,336.2 104.5,352.4 53.8,352.4 39.6,336.2" fill="none" stroke="#2e2e2e" stroke-width="2.0"/>
<circle cx="79.3" cy="312.3" r="38.8" fill="url(#rgd2)" stroke="#1c1c1c" stroke-width="4.0"/>
<g clip-path="url(#cind2)" opacity="0.28">
<line x1="41.80" y1="272.30" x2="41.80" y2="352.30" stroke="#b0b0b0" stroke-width="2.4"/>
<line x1="39.30" y1="274.80" x2="119.30" y2="274.80" stroke="#b0b0b0" stroke-width="2.4"/>
<line x1="54.30" y1="272.30" x2="54.30" y2="352.30" stroke="#b0b0b0" stroke-width="2.4"/>
<line x1="39.30" y1="287.30" x2="119.30" y2="287.30" stroke="#b0b0b0" stroke-width="2.4"/>
<line x1="66.80" y1="272.30" x2="66.80" y2="352.30" stroke="#b0b0b0" stroke-width="2.4"/>
<line x1="39.30" y1="299.80" x2="119.30" y2="299.80" stroke="#b0b0b0" stroke-width="2.4"/>
<line x1="79.30" y1="272.30" x2="79.30" y2="352.30" stroke="#b0b0b0" stroke-width="2.4"/>
<line x1="39.30" y1="312.30" x2="119.30" y2="312.30" stroke="#b0b0b0" stroke-width="2.4"/>
<line x1="91.80" y1="272.30" x2="91.80" y2="352.30" stroke="#b0b0b0" stroke-width="2.4"/>
<line x1="39.30" y1="324.80" x2="119.30" y2="324.80" stroke="#b0b0b0" stroke-width="2.4"/>
<line x1="104.30" y1="272.30" x2="104.30" y2="352.30" stroke="#b0b0b0" stroke-width="2.4"/>
<line x1="39.30" y1="337.30" x2="119.30" y2="337.30" stroke="#b0b0b0" stroke-width="2.4"/>
<line x1="116.80" y1="272.30" x2="116.80" y2="352.30" stroke="#b0b0b0" stroke-width="2.4"/>
<line x1="39.30" y1="349.80" x2="119.30" y2="349.80" stroke="#b0b0b0" stroke-width="2.4"/>
</g>
<circle cx="72.38" cy="281.23" r="2.1" fill="#d8d8d8" stroke="#3a3a3a" stroke-width="0.95"/>
<circle cx="75.36" cy="277.10" r="2.1" fill="#d8d8d8" stroke="#3a3a3a" stroke-width="0.95"/>
<circle cx="73.70" cy="286.52" r="1.5" fill="#d8d8d8" stroke="#3a3a3a" stroke-width="0.95"/>
<circle cx="86.93" cy="283.21" r="2.5" fill="#d8d8d8" stroke="#3a3a3a" stroke-width="0.95"/>
<circle cx="59.15" cy="283.71" r="1.8" fill="#d8d8d8" stroke="#3a3a3a" stroke-width="0.95"/>
<circle cx="59.98" cy="288.18" r="1.5" fill="#d8d8d8" stroke="#3a3a3a" stroke-width="0.95"/>
<circle cx="54.19" cy="289.50" r="1.8" fill="#d8d8d8" stroke="#3a3a3a" stroke-width="0.95"/>
<circle cx="50.06" cy="290.33" r="1.5" fill="#d8d8d8" stroke="#3a3a3a" stroke-width="0.95"/>
<circle cx="65.44" cy="292.81" r="2.1" fill="#d8d8d8" stroke="#3a3a3a" stroke-width="0.95"/>
<circle cx="67.42" cy="294.46" r="2.5" fill="#d8d8d8" stroke="#3a3a3a" stroke-width="0.95"/>
<circle cx="90.57" cy="289.50" r="1.8" fill="#d8d8d8" stroke="#3a3a3a" stroke-width="0.95"/>
<circle cx="93.05" cy="287.84" r="2.5" fill="#d8d8d8" stroke="#3a3a3a" stroke-width="0.95"/>
<circle cx="97.19" cy="290.33" r="1.5" fill="#d8d8d8" stroke="#3a3a3a" stroke-width="0.95"/>
<circle cx="102.15" cy="285.36" r="1.8" fill="#d8d8d8" stroke="#3a3a3a" stroke-width="0.95"/>
<circle cx="103.80" cy="293.63" r="1.5" fill="#d8d8d8" stroke="#3a3a3a" stroke-width="0.95"/>
<circle cx="50.06" cy="298.59" r="1.8" fill="#d8d8d8" stroke="#3a3a3a" stroke-width="0.95"/>
<circle cx="47.58" cy="301.07" r="2.5" fill="#d8d8d8" stroke="#3a3a3a" stroke-width="0.95"/>
<circle cx="45.10" cy="303.55" r="2.1" fill="#d8d8d8" stroke="#3a3a3a" stroke-width="0.95"/>
<circle cx="51.71" cy="297.77" r="1.8" fill="#d8d8d8" stroke="#3a3a3a" stroke-width="0.95"/>
<circle cx="48.40" cy="303.55" r="2.5" fill="#d8d8d8" stroke="#3a3a3a" stroke-width="0.95"/>
<circle cx="55.84" cy="302.73" r="1.8" fill="#d8d8d8" stroke="#3a3a3a" stroke-width="0.95"/>
<circle cx="57.50" cy="306.04" r="1.5" fill="#d8d8d8" stroke="#3a3a3a" stroke-width="0.95"/>
<circle cx="69.90" cy="299.42" r="1.8" fill="#d8d8d8" stroke="#3a3a3a" stroke-width="0.95"/>
<circle cx="72.38" cy="303.55" r="2.5" fill="#d8d8d8" stroke="#3a3a3a" stroke-width="0.95"/>
<circle cx="76.52" cy="306.04" r="1.8" fill="#d8d8d8" stroke="#3a3a3a" stroke-width="0.95"/>
<circle cx="92.23" cy="299.42" r="1.8" fill="#d8d8d8" stroke="#3a3a3a" stroke-width="0.95"/>
<circle cx="93.05" cy="303.55" r="1.5" fill="#d8d8d8" stroke="#3a3a3a" stroke-width="0.95"/>
<circle cx="92.23" cy="306.86" r="1.5" fill="#d8d8d8" stroke="#3a3a3a" stroke-width="0.95"/>
<circle cx="102.15" cy="301.07" r="1.8" fill="#d8d8d8" stroke="#3a3a3a" stroke-width="0.95"/>
<circle cx="104.63" cy="304.38" r="1.8" fill="#d8d8d8" stroke="#3a3a3a" stroke-width="0.95"/>
<circle cx="109.59" cy="307.69" r="1.8" fill="#d8d8d8" stroke="#3a3a3a" stroke-width="0.95"/>
<circle cx="108.76" cy="311.82" r="1.8" fill="#d8d8d8" stroke="#3a3a3a" stroke-width="0.95"/>
<circle cx="46.75" cy="311.82" r="2.1" fill="#d8d8d8" stroke="#3a3a3a" stroke-width="0.95"/>
<circle cx="51.71" cy="310.17" r="2.1" fill="#d8d8d8" stroke="#3a3a3a" stroke-width="0.95"/>
<circle cx="54.19" cy="311.82" r="1.8" fill="#d8d8d8" stroke="#3a3a3a" stroke-width="0.95"/>
<circle cx="52.54" cy="314.30" r="1.8" fill="#d8d8d8" stroke="#3a3a3a" stroke-width="0.95"/>
<circle cx="62.46" cy="311.82" r="1.8" fill="#d8d8d8" stroke="#3a3a3a" stroke-width="0.95"/>
<circle cx="43.44" cy="314.30" r="1.8" fill="#d8d8d8" stroke="#3a3a3a" stroke-width="0.95"/>
<circle cx="69.90" cy="315.96" r="2.5" fill="#d8d8d8" stroke="#3a3a3a" stroke-width="0.95"/>
<circle cx="71.55" cy="318.44" r="2.1" fill="#d8d8d8" stroke="#3a3a3a" stroke-width="0.95"/>
<circle cx="83.96" cy="316.78" r="1.5" fill="#d8d8d8" stroke="#3a3a3a" stroke-width="0.95"/>
<circle cx="91.40" cy="315.96" r="2.1" fill="#d8d8d8" stroke="#3a3a3a" stroke-width="0.95"/>
<circle cx="98.51" cy="316.29" r="2.5" fill="#d8d8d8" stroke="#3a3a3a" stroke-width="0.95"/>
<circle cx="93.88" cy="321.75" r="1.8" fill="#d8d8d8" stroke="#3a3a3a" stroke-width="0.95"/>
<circle cx="105.46" cy="315.96" r="1.8" fill="#d8d8d8" stroke="#3a3a3a" stroke-width="0.95"/>
<circle cx="107.11" cy="319.27" r="2.1" fill="#d8d8d8" stroke="#3a3a3a" stroke-width="0.95"/>
<circle cx="116.21" cy="314.30" r="1.5" fill="#d8d8d8" stroke="#3a3a3a" stroke-width="0.95"/>
<circle cx="113.72" cy="321.75" r="2.1" fill="#d8d8d8" stroke="#3a3a3a" stroke-width="0.95"/>
<circle cx="45.92" cy="320.92" r="2.1" fill="#d8d8d8" stroke="#3a3a3a" stroke-width="0.95"/>
<circle cx="51.71" cy="321.75" r="1.5" fill="#d8d8d8" stroke="#3a3a3a" stroke-width="0.95"/>
<circle cx="56.67" cy="322.57" r="2.1" fill="#d8d8d8" stroke="#3a3a3a" stroke-width="0.95"/>
<circle cx="61.63" cy="325.88" r="1.5" fill="#d8d8d8" stroke="#3a3a3a" stroke-width="0.95"/>
<circle cx="72.38" cy="326.71" r="2.1" fill="#d8d8d8" stroke="#3a3a3a" stroke-width="0.95"/>
<circle cx="85.61" cy="323.40" r="2.1" fill="#d8d8d8" stroke="#3a3a3a" stroke-width="0.95"/>
<circle cx="85.61" cy="327.53" r="2.1" fill="#d8d8d8" stroke="#3a3a3a" stroke-width="0.95"/>
<circle cx="102.15" cy="325.05" r="2.5" fill="#d8d8d8" stroke="#3a3a3a" stroke-width="0.95"/>
<circle cx="104.63" cy="327.53" r="2.1" fill="#d8d8d8" stroke="#3a3a3a" stroke-width="0.95"/>
<circle cx="108.76" cy="331.67" r="1.8" fill="#d8d8d8" stroke="#3a3a3a" stroke-width="0.95"/>
<circle cx="45.92" cy="328.36" r="2.5" fill="#d8d8d8" stroke="#3a3a3a" stroke-width="0.95"/>
<circle cx="50.88" cy="333.32" r="2.5" fill="#d8d8d8" stroke="#3a3a3a" stroke-width="0.95"/>
<circle cx="67.42" cy="335.80" r="1.8" fill="#d8d8d8" stroke="#3a3a3a" stroke-width="0.95"/>
<circle cx="63.29" cy="339.11" r="1.5" fill="#d8d8d8" stroke="#3a3a3a" stroke-width="0.95"/>
<circle cx="62.46" cy="343.24" r="2.1" fill="#d8d8d8" stroke="#3a3a3a" stroke-width="0.95"/>
<circle cx="67.42" cy="342.42" r="1.5" fill="#d8d8d8" stroke="#3a3a3a" stroke-width="0.95"/>
<circle cx="72.38" cy="342.75" r="2.1" fill="#d8d8d8" stroke="#3a3a3a" stroke-width="0.95"/>
<circle cx="80.65" cy="338.28" r="2.5" fill="#d8d8d8" stroke="#3a3a3a" stroke-width="0.95"/>
<circle cx="82.30" cy="344.90" r="1.5" fill="#d8d8d8" stroke="#3a3a3a" stroke-width="0.95"/>
<circle cx="98.84" cy="338.28" r="2.5" fill="#d8d8d8" stroke="#3a3a3a" stroke-width="0.95"/>
<circle cx="110.42" cy="340.76" r="2.1" fill="#d8d8d8" stroke="#3a3a3a" stroke-width="0.95"/>
</g>
<text x="135.30" y="227.50" font-size="10.5" font-weight="bold" fill="#111" stroke="#111" stroke-width="0.35">E</text>
<text x="192.30" y="230.20" font-size="8.4" fill="#222" stroke="#222" stroke-width="0.03" textLength="32.70" lengthAdjust="spacingAndGlyphs">GT<tspan dy="-0.92">_</tspan><tspan dy="0.92">​</tspan>mPB</text>
<line x1="181.50" y1="237.24" x2="184.00" y2="237.24" stroke="#231f20" stroke-width="0.9"/>
<text x="177.80" y="239.64" font-size="6.8" text-anchor="end" fill="#2a2a2a" textLength="6.96" lengthAdjust="spacingAndGlyphs">64</text>
<line x1="181.50" y1="247.40" x2="184.00" y2="247.40" stroke="#231f20" stroke-width="0.9"/>
<text x="177.80" y="249.80" font-size="6.8" text-anchor="end" fill="#2a2a2a" textLength="6.96" lengthAdjust="spacingAndGlyphs">32</text>
<line x1="181.50" y1="257.56" x2="184.00" y2="257.56" stroke="#231f20" stroke-width="0.9"/>
<text x="177.80" y="259.96" font-size="6.8" text-anchor="end" fill="#2a2a2a" textLength="6.96" lengthAdjust="spacingAndGlyphs">16</text>
<line x1="181.50" y1="267.72" x2="184.00" y2="267.72" stroke="#231f20" stroke-width="0.9"/>
<text x="177.80" y="270.12" font-size="6.8" text-anchor="end" fill="#2a2a2a" textLength="3.48" lengthAdjust="spacingAndGlyphs">8</text>
<line x1="181.50" y1="277.88" x2="184.00" y2="277.88" stroke="#231f20" stroke-width="0.9"/>
<text x="177.80" y="280.28" font-size="6.8" text-anchor="end" fill="#2a2a2a" textLength="3.48" lengthAdjust="spacingAndGlyphs">4</text>
<line x1="181.50" y1="288.04" x2="184.00" y2="288.04" stroke="#231f20" stroke-width="0.9"/>
<text x="177.80" y="290.44" font-size="6.8" text-anchor="end" fill="#2a2a2a" textLength="3.48" lengthAdjust="spacingAndGlyphs">2</text>
<line x1="181.50" y1="298.20" x2="184.00" y2="298.20" stroke="#231f20" stroke-width="0.9"/>
<text x="177.80" y="300.60" font-size="6.8" text-anchor="end" fill="#2a2a2a" textLength="3.48" lengthAdjust="spacingAndGlyphs">1</text>
<line x1="181.50" y1="308.36" x2="184.00" y2="308.36" stroke="#231f20" stroke-width="0.9"/>
<text x="177.80" y="310.76" font-size="6.8" text-anchor="end" fill="#2a2a2a" textLength="8.70" lengthAdjust="spacingAndGlyphs">0.5</text>
<text x="0" y="0" font-size="9.0" text-anchor="middle" fill="#333" textLength="44.50" lengthAdjust="spacingAndGlyphs" transform="translate(153.60,271.50) rotate(-90)">Fold change in</text>
<text x="0" y="0" font-size="9.0" text-anchor="middle" fill="#333" textLength="46.00" lengthAdjust="spacingAndGlyphs" transform="translate(164.10,271.60) rotate(-90)">colony number</text>
<rect x="203.30" y="251.93" width="10.60" height="46.27" fill="#1d4f8c"/>
<rect x="217.00" y="264.60" width="10.50" height="33.60" fill="#3aa83a"/>
<line x1="208.60" y1="251.93" x2="208.60" y2="246.30" stroke="#444" stroke-width="0.9"/>
<line x1="206.00" y1="246.30" x2="211.20" y2="246.30" stroke="#444" stroke-width="0.9"/>
<line x1="222.20" y1="264.60" x2="222.20" y2="257.56" stroke="#444" stroke-width="0.9"/>
<line x1="219.60" y1="257.56" x2="224.80" y2="257.56" stroke="#444" stroke-width="0.9"/>
<circle cx="209.00" cy="261.18" r="1.0" fill="#222"/>
<circle cx="222.00" cy="268.09" r="1.0" fill="#222"/>
<circle cx="222.00" cy="272.43" r="1.0" fill="#222"/>
<circle cx="190.60" cy="298.20" r="0.9" fill="#333"/>
<circle cx="193.10" cy="298.20" r="0.9" fill="#333"/>
<circle cx="196.10" cy="298.20" r="0.9" fill="#333"/>
<circle cx="199.10" cy="298.20" r="0.9" fill="#333"/>
<line x1="184.00" y1="298.20" x2="233.50" y2="298.20" stroke="#2a2a2a" stroke-width="0.9"/>
<line x1="184.00" y1="235.00" x2="184.00" y2="308.90" stroke="#111" stroke-width="1.3"/>
<line x1="183.40" y1="308.30" x2="233.50" y2="308.30" stroke="#111" stroke-width="1.3"/>
<line x1="195.10" y1="308.30" x2="195.10" y2="311.30" stroke="#231f20" stroke-width="0.9"/>
<text x="0" y="0" font-size="6.6" text-anchor="end" fill="#2a2a2a" textLength="31.72" lengthAdjust="spacingAndGlyphs" transform="translate(197.40,319.70) rotate(-45)">62 h DMSO</text>
<line x1="208.60" y1="308.30" x2="208.60" y2="311.30" stroke="#231f20" stroke-width="0.9"/>
<text x="0" y="0" font-size="6.6" text-anchor="end" fill="#2a2a2a" textLength="8.44" lengthAdjust="spacingAndGlyphs" transform="translate(210.90,319.70) rotate(-45)">0 h</text>
<line x1="222.20" y1="308.30" x2="222.20" y2="311.30" stroke="#231f20" stroke-width="0.9"/>
<text x="0" y="0" font-size="6.6" text-anchor="end" fill="#2a2a2a" textLength="33.74" lengthAdjust="spacingAndGlyphs" transform="translate(224.50,319.70) rotate(-45)">RUX (10nM)</text>
<text x="249.00" y="227.80" font-size="10.5" font-weight="bold" fill="#111" stroke="#111" stroke-width="0.35">F</text>
<text x="320.00" y="228.10" font-size="8.4" fill="#222" stroke="#222" stroke-width="0.03" textLength="34.50" lengthAdjust="spacingAndGlyphs">GT<tspan dy="-0.92">_</tspan><tspan dy="0.92">​</tspan>mPB</text>
<line x1="298.90" y1="235.35" x2="301.40" y2="235.35" stroke="#231f20" stroke-width="0.9"/>
<text x="295.20" y="237.75" font-size="6.8" text-anchor="end" fill="#2a2a2a" textLength="6.96" lengthAdjust="spacingAndGlyphs">32</text>
<line x1="298.90" y1="245.70" x2="301.40" y2="245.70" stroke="#231f20" stroke-width="0.9"/>
<text x="295.20" y="248.10" font-size="6.8" text-anchor="end" fill="#2a2a2a" textLength="6.96" lengthAdjust="spacingAndGlyphs">16</text>
<line x1="298.90" y1="256.05" x2="301.40" y2="256.05" stroke="#231f20" stroke-width="0.9"/>
<text x="295.20" y="258.45" font-size="6.8" text-anchor="end" fill="#2a2a2a" textLength="3.48" lengthAdjust="spacingAndGlyphs">8</text>
<line x1="298.90" y1="266.40" x2="301.40" y2="266.40" stroke="#231f20" stroke-width="0.9"/>
<text x="295.20" y="268.80" font-size="6.8" text-anchor="end" fill="#2a2a2a" textLength="3.48" lengthAdjust="spacingAndGlyphs">4</text>
<line x1="298.90" y1="276.75" x2="301.40" y2="276.75" stroke="#231f20" stroke-width="0.9"/>
<text x="295.20" y="279.15" font-size="6.8" text-anchor="end" fill="#2a2a2a" textLength="3.48" lengthAdjust="spacingAndGlyphs">2</text>
<line x1="298.90" y1="287.10" x2="301.40" y2="287.10" stroke="#231f20" stroke-width="0.9"/>
<text x="295.20" y="289.50" font-size="6.8" text-anchor="end" fill="#2a2a2a" textLength="3.48" lengthAdjust="spacingAndGlyphs">1</text>
<line x1="298.90" y1="297.45" x2="301.40" y2="297.45" stroke="#231f20" stroke-width="0.9"/>
<text x="295.20" y="299.85" font-size="6.8" text-anchor="end" fill="#2a2a2a" textLength="8.70" lengthAdjust="spacingAndGlyphs">0.5</text>
<line x1="298.90" y1="307.80" x2="301.40" y2="307.80" stroke="#231f20" stroke-width="0.9"/>
<text x="295.20" y="310.20" font-size="6.8" text-anchor="end" fill="#2a2a2a" textLength="12.17" lengthAdjust="spacingAndGlyphs">0.25</text>
<text x="0" y="0" font-size="9.0" text-anchor="middle" fill="#333" textLength="44.50" lengthAdjust="spacingAndGlyphs" transform="translate(267.10,270.10) rotate(-90)">Fold change in</text>
<text x="0" y="0" font-size="9.0" text-anchor="middle" fill="#333" textLength="46.00" lengthAdjust="spacingAndGlyphs" transform="translate(277.60,270.00) rotate(-90)">colony number</text>
<rect x="319.10" y="258.26" width="10.80" height="28.84" fill="#3aa83a"/>
<line x1="324.50" y1="258.26" x2="324.50" y2="248.80" stroke="#444" stroke-width="0.9"/>
<line x1="322.10" y1="248.80" x2="326.90" y2="248.80" stroke="#444" stroke-width="0.9"/>
<rect x="332.30" y="264.98" width="10.80" height="22.12" fill="#9a8fd0"/>
<line x1="337.70" y1="264.98" x2="337.70" y2="255.50" stroke="#444" stroke-width="0.9"/>
<line x1="335.30" y1="255.50" x2="340.10" y2="255.50" stroke="#444" stroke-width="0.9"/>
<rect x="345.20" y="260.85" width="10.80" height="26.25" fill="#f7941d"/>
<line x1="350.60" y1="260.85" x2="350.60" y2="251.29" stroke="#444" stroke-width="0.9"/>
<line x1="348.20" y1="251.29" x2="353.00" y2="251.29" stroke="#444" stroke-width="0.9"/>
<rect x="358.10" y="264.31" width="10.80" height="22.79" fill="#c8102e"/>
<line x1="363.50" y1="264.31" x2="363.50" y2="255.86" stroke="#444" stroke-width="0.9"/>
<line x1="361.10" y1="255.86" x2="365.90" y2="255.86" stroke="#444" stroke-width="0.9"/>
<circle cx="324.50" cy="262.48" r="1.0" fill="#222"/>
<circle cx="322.80" cy="274.66" r="1.0" fill="#222"/>
<circle cx="337.50" cy="268.83" r="1.0" fill="#222"/>
<circle cx="338.00" cy="278.32" r="1.0" fill="#222"/>
<circle cx="350.60" cy="269.73" r="1.0" fill="#222"/>
<circle cx="350.60" cy="251.29" r="1.0" fill="#222"/>
<circle cx="363.50" cy="267.97" r="1.0" fill="#222"/>
<circle cx="363.50" cy="278.32" r="1.0" fill="#222"/>
<rect x="325.90" y="272.32" width="2.20" height="2.20" fill="none" stroke="#444" stroke-width="0.5"/>
<rect x="336.40" y="289.33" width="2.20" height="2.20" fill="none" stroke="#444" stroke-width="0.5"/>
<rect x="349.50" y="283.28" width="2.20" height="2.20" fill="none" stroke="#444" stroke-width="0.5"/>
<rect x="362.40" y="300.85" width="2.20" height="2.20" fill="none" stroke="#444" stroke-width="0.5"/>
<line x1="323.10" y1="242.13" x2="325.90" y2="244.93" stroke="#333" stroke-width="0.7"/>
<line x1="323.10" y1="244.93" x2="325.90" y2="242.13" stroke="#333" stroke-width="0.7"/>
<line x1="362.10" y1="244.77" x2="364.90" y2="247.57" stroke="#333" stroke-width="0.7"/>
<line x1="362.10" y1="247.57" x2="364.90" y2="244.77" stroke="#333" stroke-width="0.7"/>
<circle cx="307.70" cy="287.10" r="0.9" fill="#333"/>
<circle cx="310.20" cy="287.10" r="0.9" fill="#333"/>
<circle cx="312.70" cy="287.10" r="0.9" fill="#333"/>
<circle cx="314.70" cy="287.10" r="0.9" fill="#333"/>
<line x1="301.40" y1="287.10" x2="375.50" y2="287.10" stroke="#2a2a2a" stroke-width="0.9"/>
<line x1="301.40" y1="232.40" x2="301.40" y2="309.20" stroke="#111" stroke-width="1.3"/>
<line x1="300.80" y1="308.60" x2="375.50" y2="308.60" stroke="#111" stroke-width="1.3"/>
<line x1="311.20" y1="308.60" x2="311.20" y2="311.80" stroke="#231f20" stroke-width="0.9"/>
<text x="0" y="0" font-size="6.6" text-anchor="end" fill="#2a2a2a" textLength="31.72" lengthAdjust="spacingAndGlyphs" transform="translate(313.50,320.00) rotate(-45)">62 h DMSO</text>
<line x1="324.50" y1="308.60" x2="324.50" y2="311.80" stroke="#231f20" stroke-width="0.9"/>
<text x="0" y="0" font-size="6.6" text-anchor="end" fill="#2a2a2a" textLength="33.74" lengthAdjust="spacingAndGlyphs" transform="translate(326.80,320.00) rotate(-45)">RUX (10nM)</text>
<line x1="337.70" y1="308.60" x2="337.70" y2="311.80" stroke="#231f20" stroke-width="0.9"/>
<text x="0" y="0" font-size="6.6" text-anchor="end" fill="#2a2a2a" textLength="19.57" lengthAdjust="spacingAndGlyphs" transform="translate(340.00,320.00) rotate(-45)">UM171</text>
<line x1="350.60" y1="308.60" x2="350.60" y2="311.80" stroke="#231f20" stroke-width="0.9"/>
<text x="0" y="0" font-size="6.6" text-anchor="end" fill="#2a2a2a" textLength="39.31" lengthAdjust="spacingAndGlyphs" transform="translate(352.90,320.00) rotate(-45)">UM171 + RUX</text>
<line x1="363.50" y1="308.60" x2="363.50" y2="311.80" stroke="#231f20" stroke-width="0.9"/>
<text x="0" y="0" font-size="6.6" text-anchor="end" fill="#2a2a2a" textLength="23.17" lengthAdjust="spacingAndGlyphs" transform="translate(365.80,320.00) rotate(-45)">low TPO</text>
<text x="388.30" y="228.30" font-size="10.5" font-weight="bold" fill="#111" stroke="#111" stroke-width="0.35">G</text>
<text x="446.00" y="230.20" font-size="8.4" fill="#222" stroke="#222" stroke-width="0.03" textLength="34.20" lengthAdjust="spacingAndGlyphs">GT<tspan dy="-0.92">_</tspan><tspan dy="0.92">​</tspan>mPB</text>
<line x1="435.80" y1="237.05" x2="438.30" y2="237.05" stroke="#231f20" stroke-width="0.9"/>
<text x="432.10" y="239.45" font-size="6.8" text-anchor="end" fill="#2a2a2a" textLength="3.48" lengthAdjust="spacingAndGlyphs">8</text>
<line x1="435.80" y1="254.90" x2="438.30" y2="254.90" stroke="#231f20" stroke-width="0.9"/>
<text x="432.10" y="257.30" font-size="6.8" text-anchor="end" fill="#2a2a2a" textLength="3.48" lengthAdjust="spacingAndGlyphs">4</text>
<line x1="435.80" y1="272.75" x2="438.30" y2="272.75" stroke="#231f20" stroke-width="0.9"/>
<text x="432.10" y="275.15" font-size="6.8" text-anchor="end" fill="#2a2a2a" textLength="3.48" lengthAdjust="spacingAndGlyphs">2</text>
<line x1="435.80" y1="290.60" x2="438.30" y2="290.60" stroke="#231f20" stroke-width="0.9"/>
<text x="432.10" y="293.00" font-size="6.8" text-anchor="end" fill="#2a2a2a" textLength="3.48" lengthAdjust="spacingAndGlyphs">1</text>
<line x1="435.80" y1="308.45" x2="438.30" y2="308.45" stroke="#231f20" stroke-width="0.9"/>
<text x="432.10" y="310.85" font-size="6.8" text-anchor="end" fill="#2a2a2a" textLength="8.70" lengthAdjust="spacingAndGlyphs">0.5</text>
<text x="0" y="0" font-size="9.0" text-anchor="middle" fill="#333" textLength="44.50" lengthAdjust="spacingAndGlyphs" transform="translate(407.80,270.90) rotate(-90)">Fold change in</text>
<text x="0" y="0" font-size="9.0" text-anchor="middle" fill="#333" textLength="46.00" lengthAdjust="spacingAndGlyphs" transform="translate(418.80,270.60) rotate(-90)">colony number</text>
<rect x="457.80" y="254.26" width="10.80" height="36.34" fill="#3aa83a"/>
<line x1="463.20" y1="254.26" x2="463.20" y2="239.41" stroke="#444" stroke-width="0.9"/>
<line x1="460.70" y1="239.41" x2="465.70" y2="239.41" stroke="#444" stroke-width="0.9"/>
<rect x="470.90" y="272.49" width="10.80" height="18.11" fill="#f8b51a"/>
<line x1="476.30" y1="272.49" x2="476.30" y2="263.18" stroke="#444" stroke-width="0.9"/>
<line x1="473.80" y1="263.18" x2="478.80" y2="263.18" stroke="#444" stroke-width="0.9"/>
<circle cx="463.20" cy="263.18" r="1.0" fill="#222"/>
<circle cx="476.60" cy="276.94" r="1.0" fill="#222"/>
<circle cx="463.20" cy="238.37" r="1.0" fill="#222"/>
<circle cx="476.30" cy="263.18" r="1.0" fill="#222"/>
<circle cx="463.20" cy="260.65" r="1.1" fill="none" stroke="#444" stroke-width="0.5"/>
<circle cx="474.50" cy="277.70" r="1.1" fill="none" stroke="#444" stroke-width="0.5"/>
<circle cx="443.50" cy="290.60" r="0.9" fill="#333"/>
<circle cx="446.50" cy="290.60" r="0.9" fill="#333"/>
<circle cx="449.50" cy="290.60" r="0.9" fill="#333"/>
<circle cx="452.50" cy="290.60" r="0.9" fill="#333"/>
<line x1="438.30" y1="290.60" x2="487.70" y2="290.60" stroke="#2a2a2a" stroke-width="0.9"/>
<line x1="438.30" y1="234.80" x2="438.30" y2="309.10" stroke="#111" stroke-width="1.3"/>
<line x1="437.70" y1="308.50" x2="487.70" y2="308.50" stroke="#111" stroke-width="1.3"/>
<line x1="449.50" y1="308.50" x2="449.50" y2="311.80" stroke="#231f20" stroke-width="0.9"/>
<text x="0" y="0" font-size="6.6" text-anchor="end" fill="#2a2a2a" textLength="31.72" lengthAdjust="spacingAndGlyphs" transform="translate(451.80,319.90) rotate(-45)">62 h DMSO</text>
<line x1="463.20" y1="308.50" x2="463.20" y2="311.80" stroke="#231f20" stroke-width="0.9"/>
<text x="0" y="0" font-size="6.6" text-anchor="end" fill="#2a2a2a" textLength="33.74" lengthAdjust="spacingAndGlyphs" transform="translate(465.50,319.90) rotate(-45)">RUX (10nM)</text>
<line x1="476.30" y1="308.50" x2="476.30" y2="311.80" stroke="#231f20" stroke-width="0.9"/>
<text x="0" y="0" font-size="6.6" text-anchor="end" fill="#2a2a2a" textLength="13.83" lengthAdjust="spacingAndGlyphs" transform="translate(478.60,319.90) rotate(-45)">CASi</text>
<rect x="189.50" y="162.50" width="127.00" height="6.00" fill="#c3c3c3"/>
<text x="203.50" y="167.60" font-size="6.0" text-anchor="middle" fill="#333" textLength="24.03" lengthAdjust="spacingAndGlyphs">Timepoint</text>
<text x="255.50" y="167.60" font-size="6.0" text-anchor="middle" fill="#333" textLength="29.76" lengthAdjust="spacingAndGlyphs">Comparison</text>
<text x="305.00" y="167.60" font-size="6.0" text-anchor="middle" fill="#333" textLength="18.72" lengthAdjust="spacingAndGlyphs">P-value</text>
<text x="203.50" y="177.50" font-size="5.6" text-anchor="middle" fill="#333" textLength="17.94" lengthAdjust="spacingAndGlyphs">Primary</text>
<text x="203.50" y="188.00" font-size="5.6" text-anchor="middle" fill="#333" textLength="24.90" lengthAdjust="spacingAndGlyphs">Secondary</text>
<text x="203.50" y="198.00" font-size="5.6" text-anchor="middle" fill="#333" textLength="17.07" lengthAdjust="spacingAndGlyphs">Tertiary</text>
<text x="255.50" y="174.00" font-size="5.6" text-anchor="middle" fill="#333" textLength="33.28" lengthAdjust="spacingAndGlyphs">DMSO - 50nM</text>
<text x="255.50" y="181.00" font-size="5.6" text-anchor="middle" fill="#333" textLength="36.17" lengthAdjust="spacingAndGlyphs">DMSO - 500nM</text>
<text x="255.50" y="188.00" font-size="5.6" text-anchor="middle" fill="#333" textLength="68.01" lengthAdjust="spacingAndGlyphs">DMSO - 10nM, 50nM, 500nM</text>
<text x="255.50" y="195.00" font-size="5.6" text-anchor="middle" fill="#333" textLength="65.12" lengthAdjust="spacingAndGlyphs">DMSO - 5nM, 10nM, 500nM</text>
<text x="255.50" y="201.50" font-size="5.6" text-anchor="middle" fill="#333" textLength="33.28" lengthAdjust="spacingAndGlyphs">DMSO - 50nM</text>
<text x="315.20" y="174.00" font-size="5.6" text-anchor="end" fill="#333" textLength="13.03" lengthAdjust="spacingAndGlyphs">.0144</text>
<text x="315.20" y="181.00" font-size="5.6" text-anchor="end" fill="#333" textLength="16.07" lengthAdjust="spacingAndGlyphs">&lt;.0001</text>
<text x="315.20" y="188.00" font-size="5.6" text-anchor="end" fill="#333" textLength="16.07" lengthAdjust="spacingAndGlyphs">&lt;.0001</text>
<text x="315.20" y="195.00" font-size="5.6" text-anchor="end" fill="#333" textLength="16.07" lengthAdjust="spacingAndGlyphs">&lt;.0001</text>
<text x="315.20" y="201.50" font-size="5.6" text-anchor="end" fill="#333" textLength="13.03" lengthAdjust="spacingAndGlyphs">.0027</text>
<rect x="189.50" y="162.50" width="127.00" height="40.00" fill="none" stroke="#4a4a4a" stroke-width="1.0"/>
<line x1="217.50" y1="162.50" x2="217.50" y2="202.50" stroke="#4a4a4a" stroke-width="0.9"/>
<line x1="293.50" y1="162.50" x2="293.50" y2="202.50" stroke="#4a4a4a" stroke-width="0.9"/>
<line x1="189.50" y1="168.50" x2="316.50" y2="168.50" stroke="#4a4a4a" stroke-width="0.9"/>
<line x1="217.50" y1="175.50" x2="316.50" y2="175.50" stroke="#4a4a4a" stroke-width="0.9"/>
<line x1="189.50" y1="182.50" x2="316.50" y2="182.50" stroke="#4a4a4a" stroke-width="0.9"/>
<line x1="189.50" y1="189.50" x2="316.50" y2="189.50" stroke="#4a4a4a" stroke-width="0.9"/>
<line x1="217.50" y1="196.50" x2="316.50" y2="196.50" stroke="#4a4a4a" stroke-width="0.9"/>
<rect x="366.50" y="162.50" width="145.00" height="6.00" fill="#c3c3c3"/>
<text x="380.50" y="167.60" font-size="6.0" text-anchor="middle" fill="#333" textLength="24.03" lengthAdjust="spacingAndGlyphs">Timepoint</text>
<text x="440.50" y="167.60" font-size="6.0" text-anchor="middle" fill="#333" textLength="29.76" lengthAdjust="spacingAndGlyphs">Comparison</text>
<text x="499.00" y="167.60" font-size="6.0" text-anchor="middle" fill="#333" textLength="18.72" lengthAdjust="spacingAndGlyphs">P-value</text>
<text x="380.50" y="177.50" font-size="5.6" text-anchor="middle" fill="#333" textLength="17.94" lengthAdjust="spacingAndGlyphs">Primary</text>
<text x="380.50" y="188.00" font-size="5.6" text-anchor="middle" fill="#333" textLength="24.90" lengthAdjust="spacingAndGlyphs">Secondary</text>
<text x="380.50" y="195.00" font-size="5.6" text-anchor="middle" fill="#333" textLength="17.07" lengthAdjust="spacingAndGlyphs">Tertiary</text>
<text x="440.50" y="173.50" font-size="5.6" text-anchor="middle" fill="#333" textLength="33.28" lengthAdjust="spacingAndGlyphs">DMSO - 50nM</text>
<text x="440.50" y="180.50" font-size="5.6" text-anchor="middle" fill="#333" textLength="36.17" lengthAdjust="spacingAndGlyphs">DMSO - 500nM</text>
<text x="440.50" y="188.00" font-size="5.6" text-anchor="middle" fill="#333" textLength="62.22" lengthAdjust="spacingAndGlyphs">DMSO - 5nM, 10nM, 50nM</text>
<text x="440.50" y="195.00" font-size="5.6" text-anchor="middle" fill="#333" textLength="81.04" lengthAdjust="spacingAndGlyphs">DMSO - 5nM, 10nM, 50nM, 500nM</text>
<text x="510.20" y="173.50" font-size="5.6" text-anchor="end" fill="#333" textLength="13.03" lengthAdjust="spacingAndGlyphs">.0002</text>
<text x="510.20" y="180.50" font-size="5.6" text-anchor="end" fill="#333" textLength="16.07" lengthAdjust="spacingAndGlyphs">&lt;.0001</text>
<text x="510.20" y="188.00" font-size="5.6" text-anchor="end" fill="#333" textLength="16.07" lengthAdjust="spacingAndGlyphs">&lt;.0001</text>
<text x="510.20" y="195.00" font-size="5.6" text-anchor="end" fill="#333" textLength="16.07" lengthAdjust="spacingAndGlyphs">&lt;.0001</text>
<rect x="366.50" y="162.50" width="145.00" height="34.00" fill="none" stroke="#4a4a4a" stroke-width="1.0"/>
<line x1="394.50" y1="162.50" x2="394.50" y2="196.50" stroke="#4a4a4a" stroke-width="0.9"/>
<line x1="486.50" y1="162.50" x2="486.50" y2="196.50" stroke="#4a4a4a" stroke-width="0.9"/>
<line x1="366.50" y1="168.50" x2="511.50" y2="168.50" stroke="#4a4a4a" stroke-width="0.9"/>
<line x1="394.50" y1="174.50" x2="511.50" y2="174.50" stroke="#4a4a4a" stroke-width="0.9"/>
<line x1="366.50" y1="182.50" x2="511.50" y2="182.50" stroke="#4a4a4a" stroke-width="0.9"/>
<line x1="366.50" y1="189.50" x2="511.50" y2="189.50" stroke="#4a4a4a" stroke-width="0.9"/>
<rect x="160.50" y="353.50" width="73.00" height="7.00" fill="#c3c3c3"/>
<text x="190.50" y="359.10" font-size="6.0" text-anchor="middle" fill="#333" textLength="29.76" lengthAdjust="spacingAndGlyphs">Comparison</text>
<text x="223.00" y="359.10" font-size="6.0" text-anchor="middle" fill="#333" textLength="18.72" lengthAdjust="spacingAndGlyphs">P-value</text>
<text x="169.50" y="368.10" font-size="6.2" fill="#333" textLength="42.37" lengthAdjust="spacingAndGlyphs">0 h - DMSO, RUX</text>
<text x="169.50" y="379.35" font-size="6.2" fill="#333" textLength="42.37" lengthAdjust="spacingAndGlyphs">DMSO - 0 h, RUX</text>
<text x="232.20" y="368.10" font-size="6.2" text-anchor="end" fill="#333" textLength="16.46" lengthAdjust="spacingAndGlyphs">&lt;.0001</text>
<text x="232.20" y="379.35" font-size="6.2" text-anchor="end" fill="#333" textLength="16.46" lengthAdjust="spacingAndGlyphs">&lt;.0001</text>
<rect x="160.50" y="353.50" width="73.00" height="29.50" fill="none" stroke="#4a4a4a" stroke-width="1.0"/>
<line x1="168.50" y1="353.50" x2="168.50" y2="383.00" stroke="#4a4a4a" stroke-width="0.9"/>
<line x1="212.50" y1="353.50" x2="212.50" y2="383.00" stroke="#4a4a4a" stroke-width="0.9"/>
<line x1="160.50" y1="360.50" x2="233.50" y2="360.50" stroke="#4a4a4a" stroke-width="0.9"/>
<line x1="168.50" y1="371.70" x2="233.50" y2="371.70" stroke="#4a4a4a" stroke-width="0.9"/>
<text x="0" y="0" font-size="5.4" text-anchor="middle" fill="#333" textLength="19.00" lengthAdjust="spacingAndGlyphs" transform="translate(166.40,371.75) rotate(-90)">Tertiary</text>
<rect x="255.50" y="353.50" width="124.00" height="7.00" fill="#c3c3c3"/>
<text x="311.00" y="359.10" font-size="6.0" text-anchor="middle" fill="#333" textLength="29.76" lengthAdjust="spacingAndGlyphs">Comparison</text>
<text x="369.00" y="359.10" font-size="6.0" text-anchor="middle" fill="#333" textLength="18.72" lengthAdjust="spacingAndGlyphs">P-value</text>
<text x="311.00" y="366.00" font-size="5.8" text-anchor="middle" fill="#333" textLength="90.67" lengthAdjust="spacingAndGlyphs">DMSO - RUX, UM171, UM171 + RUX</text>
<text x="311.00" y="373.00" font-size="5.8" text-anchor="middle" fill="#333" textLength="41.56" lengthAdjust="spacingAndGlyphs">DMSO - low TPO</text>
<text x="311.00" y="380.50" font-size="5.8" text-anchor="middle" fill="#333" textLength="51.11" lengthAdjust="spacingAndGlyphs">RUX - RUX + UM171</text>
<text x="311.00" y="387.50" font-size="5.8" text-anchor="middle" fill="#333" textLength="60.30" lengthAdjust="spacingAndGlyphs">RUX + UM171 - low TPO</text>
<text x="378.20" y="366.00" font-size="5.8" text-anchor="end" fill="#333" textLength="16.65" lengthAdjust="spacingAndGlyphs">&lt;.0001</text>
<text x="378.20" y="373.00" font-size="5.8" text-anchor="end" fill="#333" textLength="13.50" lengthAdjust="spacingAndGlyphs">.0008</text>
<text x="378.20" y="380.50" font-size="5.8" text-anchor="end" fill="#333" textLength="13.50" lengthAdjust="spacingAndGlyphs">.0352</text>
<text x="378.20" y="387.50" font-size="5.8" text-anchor="end" fill="#333" textLength="16.65" lengthAdjust="spacingAndGlyphs">&lt;.0001</text>
<rect x="255.50" y="353.50" width="124.00" height="35.00" fill="none" stroke="#4a4a4a" stroke-width="1.0"/>
<line x1="263.50" y1="353.50" x2="263.50" y2="388.50" stroke="#4a4a4a" stroke-width="0.9"/>
<line x1="358.50" y1="353.50" x2="358.50" y2="388.50" stroke="#4a4a4a" stroke-width="0.9"/>
<line x1="255.50" y1="360.50" x2="379.50" y2="360.50" stroke="#4a4a4a" stroke-width="0.9"/>
<line x1="263.50" y1="367.50" x2="379.50" y2="367.50" stroke="#4a4a4a" stroke-width="0.9"/>
<line x1="263.50" y1="374.50" x2="379.50" y2="374.50" stroke="#4a4a4a" stroke-width="0.9"/>
<line x1="263.50" y1="382.50" x2="379.50" y2="382.50" stroke="#4a4a4a" stroke-width="0.9"/>
<text x="0" y="0" font-size="5.4" text-anchor="middle" fill="#333" textLength="19.00" lengthAdjust="spacingAndGlyphs" transform="translate(261.60,374.50) rotate(-90)">Tertiary</text>
<rect x="407.50" y="353.50" width="80.00" height="7.00" fill="#c3c3c3"/>
<text x="441.50" y="359.10" font-size="6.0" text-anchor="middle" fill="#333" textLength="29.76" lengthAdjust="spacingAndGlyphs">Comparison</text>
<text x="477.50" y="359.10" font-size="6.0" text-anchor="middle" fill="#333" textLength="18.72" lengthAdjust="spacingAndGlyphs">P-value</text>
<text x="441.50" y="368.00" font-size="6.0" text-anchor="middle" fill="#333" textLength="47.70" lengthAdjust="spacingAndGlyphs">DMSO - RUX, CASi</text>
<text x="441.50" y="379.00" font-size="6.0" text-anchor="middle" fill="#333" textLength="28.50" lengthAdjust="spacingAndGlyphs">RUX - CASi</text>
<text x="486.20" y="368.00" font-size="6.0" text-anchor="end" fill="#333" textLength="16.67" lengthAdjust="spacingAndGlyphs">&lt;.0001</text>
<text x="486.20" y="379.00" font-size="6.0" text-anchor="end" fill="#333" textLength="16.67" lengthAdjust="spacingAndGlyphs">&lt;.0001</text>
<rect x="407.50" y="353.50" width="80.00" height="29.00" fill="none" stroke="#4a4a4a" stroke-width="1.0"/>
<line x1="415.50" y1="353.50" x2="415.50" y2="382.50" stroke="#4a4a4a" stroke-width="0.9"/>
<line x1="467.50" y1="353.50" x2="467.50" y2="382.50" stroke="#4a4a4a" stroke-width="0.9"/>
<line x1="407.50" y1="360.50" x2="487.50" y2="360.50" stroke="#4a4a4a" stroke-width="0.9"/>
<line x1="415.50" y1="371.50" x2="487.50" y2="371.50" stroke="#4a4a4a" stroke-width="0.9"/>
<text x="0" y="0" font-size="5.4" text-anchor="middle" fill="#333" textLength="19.00" lengthAdjust="spacingAndGlyphs" transform="translate(413.80,371.50) rotate(-90)">Tertiary</text>
<text x="7.00" y="413.80" font-size="10.5" font-weight="bold" fill="#111" stroke="#111" stroke-width="0.35">H</text>
<defs><linearGradient id="hg" x1="0" x2="1" y1="0" y2="0"><stop offset="0" stop-color="#ffffff"/><stop offset="0.15" stop-color="#b7c9e6"/><stop offset="0.33" stop-color="#c9b6cc"/><stop offset="0.46" stop-color="#e26b75"/><stop offset="0.55" stop-color="#d81c1c"/><stop offset="0.63" stop-color="#d9141a"/><stop offset="0.66" stop-color="#ea2b20"/><stop offset="1" stop-color="#e8281e"/></linearGradient></defs>
<rect x="57.50" y="446.60" width="65.80" height="4.90" fill="url(#hg)"/>
<text x="67.00" y="438.60" font-size="4.6" text-anchor="middle" fill="#333" textLength="31.00" lengthAdjust="spacingAndGlyphs">Quiescence Exit</text>
<text x="66.50" y="443.70" font-size="4.6" text-anchor="middle" fill="#333" textLength="27.00" lengthAdjust="spacingAndGlyphs">(G  - early G )</text>
<text x="108.80" y="438.60" font-size="4.6" text-anchor="middle" fill="#333" textLength="42.00" lengthAdjust="spacingAndGlyphs">Cell Cycle Progression</text>
<text x="109.50" y="443.70" font-size="4.6" text-anchor="middle" fill="#333" textLength="32.00" lengthAdjust="spacingAndGlyphs">(late G  - S/G M)</text>
<line x1="17.20" y1="453.60" x2="55.80" y2="453.60" stroke="#5cb85c" stroke-width="1.0"/>
<line x1="18.50" y1="453.20" x2="18.50" y2="480.60" stroke="#2e9e34" stroke-width="2.5"/>
<line x1="54.50" y1="453.20" x2="54.50" y2="480.60" stroke="#2e9e34" stroke-width="2.5"/>
<line x1="17.20" y1="479.90" x2="55.80" y2="479.90" stroke="#2e9e34" stroke-width="1.9"/>
<line x1="55.00" y1="479.60" x2="110.00" y2="479.60" stroke="#2e9e34" stroke-width="1.9"/>
<path d="M109.2,476.3 L115.8,479.6 L109.2,482.9 Z" fill="#2e9e34"/>
<text x="35.60" y="452.00" font-size="6.8" text-anchor="middle" fill="#4caf50" textLength="8.60" lengthAdjust="spacingAndGlyphs">GT</text>
<text x="35.80" y="459.60" font-size="6.4" text-anchor="middle" fill="#333" textLength="11.00" lengthAdjust="spacingAndGlyphs">mPB</text>
<text x="35.60" y="466.10" font-size="6.6" text-anchor="middle" fill="#333" textLength="31.50" lengthAdjust="spacingAndGlyphs">CD34 /CD38</text>
<text x="36.00" y="463.00" font-size="3.2" fill="#333">+</text>
<text x="52.00" y="463.00" font-size="3.4" fill="#333">-</text>
<circle cx="36.20" cy="470.30" r="2.0" fill="#3a3a3a"/>
<path d="M31.6,479.6 C31.8,475.0 33.2,473.0 36.2,473.0 C39.2,473.0 40.6,475.0 40.8,479.6 Z" fill="#3a3a3a"/>
<path d="M44.2,468.6 h2.6 v3.6 q0,1.0 -1.3,1.0 q-1.3,0 -1.3,-1.0 Z" fill="#c42a2a"/>
<line x1="45.50" y1="467.30" x2="45.50" y2="468.60" stroke="#999" stroke-width="0.5"/>
<line x1="45.50" y1="473.20" x2="45.50" y2="477.00" stroke="#d07070" stroke-width="0.5"/>
<polygon points="81.80,472.70 80.02,473.62 80.63,475.53 78.72,474.92 77.80,476.70 76.88,474.92 74.97,475.53 75.58,473.62 73.80,472.70 75.58,471.78 74.97,469.87 76.88,470.48 77.80,468.70 78.72,470.48 80.63,469.87 80.02,471.78" fill="#454545"/>
<circle cx="77.80" cy="472.70" r="2.4" fill="#626262"/>
<circle cx="77.30" cy="472.30" r="1.1" fill="#8a8a8a"/>
<polygon points="99.80,472.70 98.02,473.62 98.63,475.53 96.72,474.92 95.80,476.70 94.88,474.92 92.97,475.53 93.58,473.62 91.80,472.70 93.58,471.78 92.97,469.87 94.88,470.48 95.80,468.70 96.72,470.48 98.63,469.87 98.02,471.78" fill="#454545"/>
<circle cx="95.80" cy="472.70" r="2.4" fill="#626262"/>
<circle cx="95.30" cy="472.30" r="1.1" fill="#8a8a8a"/>
<text x="126.40" y="468.70" font-size="6.9" text-anchor="middle" fill="#222" textLength="12.40" lengthAdjust="spacingAndGlyphs">62 h</text>
<text x="126.30" y="476.30" font-size="6.9" text-anchor="middle" fill="#222" textLength="21.30" lengthAdjust="spacingAndGlyphs">DMSO/</text>
<text x="126.80" y="483.80" font-size="6.9" text-anchor="middle" fill="#222" textLength="12.50" lengthAdjust="spacingAndGlyphs">RUX</text>
<line x1="139.70" y1="455.00" x2="139.70" y2="482.50" stroke="#3f8f3f" stroke-width="1.0"/>
<text x="142.20" y="471.40" font-size="6.4" fill="#333" textLength="5.20" lengthAdjust="spacingAndGlyphs">IV</text>
<g transform="translate(150.40,477.40) scale(1.0)" fill="#3a3a3a"><ellipse cx="-0.6" cy="0.2" rx="4.0" ry="2.9"/><ellipse cx="3.4" cy="-0.9" rx="2.5" ry="1.9" transform="rotate(-15 3.4 -0.9)"/><path d="M4.5,-2.2 L6.6,-0.3 L4.6,0.4 Z"/><circle cx="2.6" cy="-2.7" r="1.15"/><circle cx="4.1" cy="-2.9" r="0.95"/><rect x="-3.2" y="2.4" width="1.2" height="1.0"/><rect x="1.2" y="2.4" width="1.2" height="1.0"/><path d="M-4.3,1.4 C-6.2,3.4 -8,3.0 -8.4,1.4" fill="none" stroke="#777" stroke-width="0.5"/></g>
<g transform="translate(166.80,477.40) scale(1.0)" fill="#3a3a3a"><ellipse cx="-0.6" cy="0.2" rx="4.0" ry="2.9"/><ellipse cx="3.4" cy="-0.9" rx="2.5" ry="1.9" transform="rotate(-15 3.4 -0.9)"/><path d="M4.5,-2.2 L6.6,-0.3 L4.6,0.4 Z"/><circle cx="2.6" cy="-2.7" r="1.15"/><circle cx="4.1" cy="-2.9" r="0.95"/><rect x="-3.2" y="2.4" width="1.2" height="1.0"/><rect x="1.2" y="2.4" width="1.2" height="1.0"/><path d="M-4.3,1.4 C-6.2,3.4 -8,3.0 -8.4,1.4" fill="none" stroke="#777" stroke-width="0.5"/></g>
<text x="148.00" y="456.90" font-size="5.6" fill="#333">1</text>
<text x="151.30" y="454.00" font-size="3.5" fill="#333">o</text>
<text x="166.30" y="456.90" font-size="5.6" fill="#333">2</text>
<text x="169.60" y="454.00" font-size="3.5" fill="#333">o</text>
<path d="M153.8,470.0 C155.5,462.5 164.5,460.5 168.1,468.0" fill="none" stroke="#222" stroke-width="0.8"/>
<path d="M166.3,467.2 L168.6,470.0 L169.6,466.5 Z" fill="#222"/>
<text x="187.30" y="414.60" font-size="10.5" font-weight="bold" fill="#111" stroke="#111" stroke-width="0.35">I</text>
<circle cx="229.50" cy="423.80" r="2.0" fill="#c4c4c4" stroke="#6a6a6a" stroke-width="0.85"/>
<circle cx="229.50" cy="431.50" r="2.0" fill="#3a9a3d" stroke="#1e5e22" stroke-width="0.85"/>
<text x="234.60" y="426.40" font-size="6.7" fill="#4a4a4a" textLength="20.30" lengthAdjust="spacingAndGlyphs">DMSO</text>
<text x="234.60" y="434.10" font-size="6.7" fill="#4a4a4a" textLength="13.10" lengthAdjust="spacingAndGlyphs">RUX</text>
<text x="0" y="0" font-size="8.9" text-anchor="middle" fill="#333" stroke="#333" stroke-width="0.05" textLength="74.30" lengthAdjust="spacingAndGlyphs" transform="translate(201.90,485.40) rotate(-90)">Human engraftment (%)</text>
<line x1="225.80" y1="532.15" x2="228.80" y2="532.15" stroke="#231f20" stroke-width="0.9"/>
<line x1="227.00" y1="526.72" x2="228.80" y2="526.72" stroke="#231f20" stroke-width="0.6"/>
<line x1="227.00" y1="523.54" x2="228.80" y2="523.54" stroke="#231f20" stroke-width="0.6"/>
<line x1="227.00" y1="521.28" x2="228.80" y2="521.28" stroke="#231f20" stroke-width="0.6"/>
<line x1="227.00" y1="519.53" x2="228.80" y2="519.53" stroke="#231f20" stroke-width="0.6"/>
<line x1="227.00" y1="518.10" x2="228.80" y2="518.10" stroke="#231f20" stroke-width="0.6"/>
<line x1="227.00" y1="516.90" x2="228.80" y2="516.90" stroke="#231f20" stroke-width="0.6"/>
<line x1="227.00" y1="515.85" x2="228.80" y2="515.85" stroke="#231f20" stroke-width="0.6"/>
<line x1="227.00" y1="514.93" x2="228.80" y2="514.93" stroke="#231f20" stroke-width="0.6"/>
<line x1="225.80" y1="514.10" x2="228.80" y2="514.10" stroke="#231f20" stroke-width="0.9"/>
<line x1="227.00" y1="508.67" x2="228.80" y2="508.67" stroke="#231f20" stroke-width="0.6"/>
<line x1="227.00" y1="505.49" x2="228.80" y2="505.49" stroke="#231f20" stroke-width="0.6"/>
<line x1="227.00" y1="503.23" x2="228.80" y2="503.23" stroke="#231f20" stroke-width="0.6"/>
<line x1="227.00" y1="501.48" x2="228.80" y2="501.48" stroke="#231f20" stroke-width="0.6"/>
<line x1="227.00" y1="500.05" x2="228.80" y2="500.05" stroke="#231f20" stroke-width="0.6"/>
<line x1="227.00" y1="498.85" x2="228.80" y2="498.85" stroke="#231f20" stroke-width="0.6"/>
<line x1="227.00" y1="497.80" x2="228.80" y2="497.80" stroke="#231f20" stroke-width="0.6"/>
<line x1="227.00" y1="496.88" x2="228.80" y2="496.88" stroke="#231f20" stroke-width="0.6"/>
<line x1="225.80" y1="496.05" x2="228.80" y2="496.05" stroke="#231f20" stroke-width="0.9"/>
<line x1="227.00" y1="490.62" x2="228.80" y2="490.62" stroke="#231f20" stroke-width="0.6"/>
<line x1="227.00" y1="487.44" x2="228.80" y2="487.44" stroke="#231f20" stroke-width="0.6"/>
<line x1="227.00" y1="485.18" x2="228.80" y2="485.18" stroke="#231f20" stroke-width="0.6"/>
<line x1="227.00" y1="483.43" x2="228.80" y2="483.43" stroke="#231f20" stroke-width="0.6"/>
<line x1="227.00" y1="482.00" x2="228.80" y2="482.00" stroke="#231f20" stroke-width="0.6"/>
<line x1="227.00" y1="480.80" x2="228.80" y2="480.80" stroke="#231f20" stroke-width="0.6"/>
<line x1="227.00" y1="479.75" x2="228.80" y2="479.75" stroke="#231f20" stroke-width="0.6"/>
<line x1="227.00" y1="478.83" x2="228.80" y2="478.83" stroke="#231f20" stroke-width="0.6"/>
<line x1="225.80" y1="478.00" x2="228.80" y2="478.00" stroke="#231f20" stroke-width="0.9"/>
<line x1="227.00" y1="472.57" x2="228.80" y2="472.57" stroke="#231f20" stroke-width="0.6"/>
<line x1="227.00" y1="469.39" x2="228.80" y2="469.39" stroke="#231f20" stroke-width="0.6"/>
<line x1="227.00" y1="467.13" x2="228.80" y2="467.13" stroke="#231f20" stroke-width="0.6"/>
<line x1="227.00" y1="465.38" x2="228.80" y2="465.38" stroke="#231f20" stroke-width="0.6"/>
<line x1="227.00" y1="463.95" x2="228.80" y2="463.95" stroke="#231f20" stroke-width="0.6"/>
<line x1="227.00" y1="462.75" x2="228.80" y2="462.75" stroke="#231f20" stroke-width="0.6"/>
<line x1="227.00" y1="461.70" x2="228.80" y2="461.70" stroke="#231f20" stroke-width="0.6"/>
<line x1="227.00" y1="460.78" x2="228.80" y2="460.78" stroke="#231f20" stroke-width="0.6"/>
<line x1="225.80" y1="459.95" x2="228.80" y2="459.95" stroke="#231f20" stroke-width="0.9"/>
<line x1="227.00" y1="454.52" x2="228.80" y2="454.52" stroke="#231f20" stroke-width="0.6"/>
<line x1="227.00" y1="451.34" x2="228.80" y2="451.34" stroke="#231f20" stroke-width="0.6"/>
<line x1="227.00" y1="449.08" x2="228.80" y2="449.08" stroke="#231f20" stroke-width="0.6"/>
<line x1="227.00" y1="447.33" x2="228.80" y2="447.33" stroke="#231f20" stroke-width="0.6"/>
<line x1="227.00" y1="445.90" x2="228.80" y2="445.90" stroke="#231f20" stroke-width="0.6"/>
<line x1="227.00" y1="444.70" x2="228.80" y2="444.70" stroke="#231f20" stroke-width="0.6"/>
<line x1="227.00" y1="443.65" x2="228.80" y2="443.65" stroke="#231f20" stroke-width="0.6"/>
<line x1="227.00" y1="442.73" x2="228.80" y2="442.73" stroke="#231f20" stroke-width="0.6"/>
<line x1="225.80" y1="441.90" x2="228.80" y2="441.90" stroke="#231f20" stroke-width="0.9"/>
<text x="224.30" y="444.10" font-size="6.4" text-anchor="end" fill="#333" textLength="10.46" lengthAdjust="spacingAndGlyphs">100</text>
<text x="224.30" y="462.15" font-size="6.4" text-anchor="end" fill="#333" textLength="6.98" lengthAdjust="spacingAndGlyphs">10</text>
<text x="224.30" y="480.20" font-size="6.4" text-anchor="end" fill="#333" textLength="3.49" lengthAdjust="spacingAndGlyphs">1</text>
<text x="224.30" y="498.25" font-size="6.4" text-anchor="end" fill="#333" textLength="8.72" lengthAdjust="spacingAndGlyphs">0.1</text>
<text x="224.30" y="516.30" font-size="6.4" text-anchor="end" fill="#333" textLength="12.21" lengthAdjust="spacingAndGlyphs">0.01</text>
<text x="224.30" y="534.35" font-size="6.4" text-anchor="end" fill="#333" textLength="15.69" lengthAdjust="spacingAndGlyphs">0.001</text>
<line x1="228.8" y1="514.1" x2="319.7" y2="514.1" stroke="#444" stroke-width="0.8" stroke-dasharray="1.2,1.2"/>
<line x1="228.80" y1="441.20" x2="228.80" y2="532.80" stroke="#111" stroke-width="1.3"/>
<line x1="228.20" y1="532.20" x2="319.70" y2="532.20" stroke="#111" stroke-width="1.3"/>
<line x1="240.30" y1="532.20" x2="240.30" y2="535.20" stroke="#231f20" stroke-width="0.9"/>
<text x="240.30" y="544.30" font-size="6.4" text-anchor="middle" fill="#333" textLength="6.76" lengthAdjust="spacingAndGlyphs">50</text>
<line x1="262.70" y1="532.20" x2="262.70" y2="535.20" stroke="#231f20" stroke-width="0.9"/>
<text x="262.70" y="544.30" font-size="6.4" text-anchor="middle" fill="#333" textLength="13.52" lengthAdjust="spacingAndGlyphs">1250</text>
<line x1="286.50" y1="532.20" x2="286.50" y2="535.20" stroke="#231f20" stroke-width="0.9"/>
<text x="286.50" y="544.30" font-size="6.4" text-anchor="middle" fill="#333" textLength="13.52" lengthAdjust="spacingAndGlyphs">5000</text>
<line x1="309.50" y1="532.20" x2="309.50" y2="535.20" stroke="#231f20" stroke-width="0.9"/>
<text x="309.50" y="544.30" font-size="6.4" text-anchor="middle" fill="#333" textLength="16.91" lengthAdjust="spacingAndGlyphs">30000</text>
<text x="274.50" y="556.50" font-size="9.0" text-anchor="middle" fill="#333" stroke="#333" stroke-width="0.05" textLength="27.40" lengthAdjust="spacingAndGlyphs">Cell dose</text>
<circle cx="234.78" cy="500.00" r="2.3" fill="#3a9c3d" stroke="#1d5f22" stroke-width="0.8"/>
<circle cx="243.57" cy="499.70" r="2.3" fill="#cbcbcb" stroke="#7a7a7a" stroke-width="0.8"/>
<circle cx="244.47" cy="506.00" r="2.3" fill="#cbcbcb" stroke="#7a7a7a" stroke-width="0.8"/>
<circle cx="243.43" cy="514.00" r="2.3" fill="#cbcbcb" stroke="#7a7a7a" stroke-width="0.8"/>
<circle cx="258.36" cy="490.20" r="2.3" fill="#3a9c3d" stroke="#1d5f22" stroke-width="0.8"/>
<circle cx="258.06" cy="508.00" r="2.3" fill="#3a9c3d" stroke="#1d5f22" stroke-width="0.8"/>
<circle cx="257.50" cy="509.50" r="2.3" fill="#3a9c3d" stroke="#1d5f22" stroke-width="0.8"/>
<circle cx="266.71" cy="471.40" r="2.3" fill="#cbcbcb" stroke="#7a7a7a" stroke-width="0.8"/>
<circle cx="265.87" cy="481.80" r="2.3" fill="#cbcbcb" stroke="#7a7a7a" stroke-width="0.8"/>
<circle cx="266.58" cy="498.50" r="2.3" fill="#cbcbcb" stroke="#7a7a7a" stroke-width="0.8"/>
<circle cx="265.93" cy="504.10" r="2.3" fill="#cbcbcb" stroke="#7a7a7a" stroke-width="0.8"/>
<circle cx="281.06" cy="465.80" r="2.3" fill="#3a9c3d" stroke="#1d5f22" stroke-width="0.8"/>
<circle cx="281.66" cy="468.30" r="2.3" fill="#3a9c3d" stroke="#1d5f22" stroke-width="0.8"/>
<circle cx="282.39" cy="470.90" r="2.3" fill="#3a9c3d" stroke="#1d5f22" stroke-width="0.8"/>
<circle cx="281.12" cy="473.30" r="2.3" fill="#3a9c3d" stroke="#1d5f22" stroke-width="0.8"/>
<circle cx="281.30" cy="476.50" r="2.3" fill="#3a9c3d" stroke="#1d5f22" stroke-width="0.8"/>
<circle cx="282.03" cy="480.40" r="2.3" fill="#3a9c3d" stroke="#1d5f22" stroke-width="0.8"/>
<circle cx="282.61" cy="482.50" r="2.3" fill="#3a9c3d" stroke="#1d5f22" stroke-width="0.8"/>
<circle cx="281.94" cy="484.60" r="2.3" fill="#3a9c3d" stroke="#1d5f22" stroke-width="0.8"/>
<circle cx="281.61" cy="486.70" r="2.3" fill="#3a9c3d" stroke="#1d5f22" stroke-width="0.8"/>
<circle cx="282.66" cy="488.90" r="2.3" fill="#3a9c3d" stroke="#1d5f22" stroke-width="0.8"/>
<circle cx="280.98" cy="491.00" r="2.3" fill="#3a9c3d" stroke="#1d5f22" stroke-width="0.8"/>
<circle cx="282.45" cy="493.80" r="2.3" fill="#3a9c3d" stroke="#1d5f22" stroke-width="0.8"/>
<circle cx="281.42" cy="496.70" r="2.3" fill="#3a9c3d" stroke="#1d5f22" stroke-width="0.8"/>
<circle cx="281.16" cy="498.80" r="2.3" fill="#3a9c3d" stroke="#1d5f22" stroke-width="0.8"/>
<circle cx="281.11" cy="505.90" r="2.3" fill="#3a9c3d" stroke="#1d5f22" stroke-width="0.8"/>
<circle cx="281.46" cy="508.00" r="2.3" fill="#3a9c3d" stroke="#1d5f22" stroke-width="0.8"/>
<circle cx="282.37" cy="510.10" r="2.3" fill="#3a9c3d" stroke="#1d5f22" stroke-width="0.8"/>
<circle cx="289.93" cy="464.80" r="2.3" fill="#cbcbcb" stroke="#7a7a7a" stroke-width="0.8"/>
<circle cx="290.65" cy="467.20" r="2.3" fill="#cbcbcb" stroke="#7a7a7a" stroke-width="0.8"/>
<circle cx="290.75" cy="469.70" r="2.3" fill="#cbcbcb" stroke="#7a7a7a" stroke-width="0.8"/>
<circle cx="290.27" cy="472.30" r="2.3" fill="#cbcbcb" stroke="#7a7a7a" stroke-width="0.8"/>
<circle cx="290.59" cy="474.70" r="2.3" fill="#cbcbcb" stroke="#7a7a7a" stroke-width="0.8"/>
<circle cx="289.71" cy="477.50" r="2.3" fill="#cbcbcb" stroke="#7a7a7a" stroke-width="0.8"/>
<circle cx="289.71" cy="479.70" r="2.3" fill="#cbcbcb" stroke="#7a7a7a" stroke-width="0.8"/>
<circle cx="289.97" cy="491.30" r="2.3" fill="#cbcbcb" stroke="#7a7a7a" stroke-width="0.8"/>
<circle cx="290.82" cy="493.10" r="2.3" fill="#cbcbcb" stroke="#7a7a7a" stroke-width="0.8"/>
<circle cx="290.37" cy="495.20" r="2.3" fill="#cbcbcb" stroke="#7a7a7a" stroke-width="0.8"/>
<circle cx="290.17" cy="501.20" r="2.3" fill="#cbcbcb" stroke="#7a7a7a" stroke-width="0.8"/>
<circle cx="290.65" cy="505.90" r="2.3" fill="#cbcbcb" stroke="#7a7a7a" stroke-width="0.8"/>
<circle cx="290.42" cy="508.00" r="2.3" fill="#cbcbcb" stroke="#7a7a7a" stroke-width="0.8"/>
<circle cx="290.14" cy="510.10" r="2.3" fill="#cbcbcb" stroke="#7a7a7a" stroke-width="0.8"/>
<circle cx="305.63" cy="451.60" r="2.3" fill="#3a9c3d" stroke="#1d5f22" stroke-width="0.8"/>
<circle cx="305.46" cy="454.20" r="2.3" fill="#3a9c3d" stroke="#1d5f22" stroke-width="0.8"/>
<circle cx="304.64" cy="456.70" r="2.3" fill="#3a9c3d" stroke="#1d5f22" stroke-width="0.8"/>
<circle cx="305.23" cy="459.10" r="2.3" fill="#3a9c3d" stroke="#1d5f22" stroke-width="0.8"/>
<circle cx="305.15" cy="461.20" r="2.3" fill="#3a9c3d" stroke="#1d5f22" stroke-width="0.8"/>
<circle cx="305.78" cy="463.40" r="2.3" fill="#3a9c3d" stroke="#1d5f22" stroke-width="0.8"/>
<circle cx="305.51" cy="465.80" r="2.3" fill="#3a9c3d" stroke="#1d5f22" stroke-width="0.8"/>
<circle cx="304.72" cy="468.30" r="2.3" fill="#3a9c3d" stroke="#1d5f22" stroke-width="0.8"/>
<circle cx="305.96" cy="475.70" r="2.3" fill="#3a9c3d" stroke="#1d5f22" stroke-width="0.8"/>
<circle cx="304.41" cy="477.10" r="2.3" fill="#3a9c3d" stroke="#1d5f22" stroke-width="0.8"/>
<circle cx="313.45" cy="461.20" r="2.3" fill="#cbcbcb" stroke="#7a7a7a" stroke-width="0.8"/>
<circle cx="314.06" cy="463.40" r="2.3" fill="#cbcbcb" stroke="#7a7a7a" stroke-width="0.8"/>
<circle cx="312.97" cy="465.50" r="2.3" fill="#cbcbcb" stroke="#7a7a7a" stroke-width="0.8"/>
<circle cx="313.58" cy="467.60" r="2.3" fill="#cbcbcb" stroke="#7a7a7a" stroke-width="0.8"/>
<circle cx="312.77" cy="469.70" r="2.3" fill="#cbcbcb" stroke="#7a7a7a" stroke-width="0.8"/>
<circle cx="313.90" cy="471.90" r="2.3" fill="#cbcbcb" stroke="#7a7a7a" stroke-width="0.8"/>
<circle cx="314.08" cy="474.00" r="2.3" fill="#cbcbcb" stroke="#7a7a7a" stroke-width="0.8"/>
<circle cx="313.73" cy="476.10" r="2.3" fill="#cbcbcb" stroke="#7a7a7a" stroke-width="0.8"/>
<circle cx="314.28" cy="494.50" r="2.3" fill="#cbcbcb" stroke="#7a7a7a" stroke-width="0.8"/>
<line x1="241.60" y1="506.30" x2="246.80" y2="506.30" stroke="#222" stroke-width="1.1"/>
<line x1="255.40" y1="499.30" x2="260.60" y2="499.30" stroke="#222" stroke-width="1.1"/>
<line x1="264.10" y1="481.80" x2="269.30" y2="481.80" stroke="#222" stroke-width="1.1"/>
<line x1="279.20" y1="479.00" x2="284.40" y2="479.00" stroke="#222" stroke-width="1.1"/>
<line x1="287.90" y1="477.50" x2="293.10" y2="477.50" stroke="#222" stroke-width="1.1"/>
<line x1="302.50" y1="461.20" x2="307.70" y2="461.20" stroke="#222" stroke-width="1.1"/>
<line x1="311.00" y1="469.70" x2="316.20" y2="469.70" stroke="#222" stroke-width="1.1"/>
<text x="311.00" y="440.50" font-size="7.3" text-anchor="middle" fill="#333" font-style="italic" textLength="20.20" lengthAdjust="spacingAndGlyphs">0.0059</text>
<line x1="305.40" y1="446.00" x2="315.60" y2="446.00" stroke="#333" stroke-width="0.8"/>
<line x1="305.40" y1="444.60" x2="305.40" y2="447.40" stroke="#333" stroke-width="0.8"/>
<line x1="315.60" y1="444.60" x2="315.60" y2="447.40" stroke="#333" stroke-width="0.8"/>
<text x="335.60" y="414.60" font-size="10.5" font-weight="bold" fill="#111" stroke="#111" stroke-width="0.35">J</text>
<clipPath id="jclip"><rect x="375.8" y="420.4" width="109.59999999999997" height="96.89999999999998"/></clipPath>
<g clip-path="url(#jclip)">
<path d="M377.7,422.1 L485.4,458.5 L485.4,517.3 L469.0,517.3 Z" fill="#c6c4cb"/>
<path d="M377.7,422.1 L469.0,517.3 L433.0,517.3 Z" fill="#5fb856"/>
<path d="M377.7,422.1 L433.0,517.3 L399.5,517.3 Z" fill="#a3d597"/>
<line x1="377.7" y1="422.1" x2="485.4" y2="458.5" stroke="#666" stroke-width="0.6" stroke-dasharray="0.8,0.8"/>
<line x1="377.7" y1="422.1" x2="469.0" y2="517.3" stroke="#555" stroke-width="0.6" stroke-dasharray="0.8,0.8"/>
<line x1="377.7" y1="422.1" x2="433.0" y2="517.3" stroke="#2d6a2d" stroke-width="0.6" stroke-dasharray="0.8,0.8"/>
<line x1="377.7" y1="422.1" x2="399.5" y2="517.3" stroke="#2d6a2d" stroke-width="0.6" stroke-dasharray="0.8,0.8"/>
<line x1="377.70" y1="422.10" x2="485.40" y2="502.50" stroke="#2a2a2a" stroke-width="0.9"/>
<line x1="377.70" y1="422.10" x2="420.00" y2="517.30" stroke="#1d5e22" stroke-width="0.8"/>
<circle cx="390.80" cy="438.40" r="1.9" fill="#fff" stroke="#333" stroke-width="0.7"/>
<circle cx="401.20" cy="441.60" r="1.9" fill="#fff" stroke="#333" stroke-width="0.7"/>
<circle cx="390.80" cy="446.50" r="1.9" fill="#3a9a3a" stroke="#1f4f1f" stroke-width="0.7"/>
<circle cx="401.20" cy="468.80" r="1.9" fill="#3a9a3a" stroke="#1f4f1f" stroke-width="0.7"/>
<circle cx="482.00" cy="479.20" r="1.9" fill="#fff" stroke="#333" stroke-width="0.7"/>
<path d="M480.2,514.2 L484.0,514.2 L482.1,517.3 Z" fill="#333"/>
<rect x="403.00" y="506.60" width="18.60" height="8.00" fill="#138a30"/>
<text x="412.30" y="512.60" font-size="5.6" text-anchor="middle" fill="#3fb54f" textLength="15.00" lengthAdjust="spacingAndGlyphs">2.9x↑</text>
<text x="379.00" y="510.30" font-size="3.6" fill="#bbb" textLength="8.50" lengthAdjust="spacingAndGlyphs">DMSO</text>
<text x="379.00" y="514.60" font-size="3.6" fill="#3aa83a" textLength="6.00" lengthAdjust="spacingAndGlyphs">RUX</text>
</g>
<rect x="375.80" y="420.40" width="109.60" height="96.90" fill="none" stroke="#222" stroke-width="1.2"/>
<line x1="372.80" y1="424.10" x2="375.80" y2="424.10" stroke="#231f20" stroke-width="0.9"/>
<text x="370.40" y="426.40" font-size="6.8" text-anchor="end" fill="#333" textLength="9.83" lengthAdjust="spacingAndGlyphs">0.0</text>
<line x1="372.80" y1="443.73" x2="375.80" y2="443.73" stroke="#231f20" stroke-width="0.9"/>
<text x="370.40" y="446.03" font-size="6.8" text-anchor="end" fill="#333" textLength="13.96" lengthAdjust="spacingAndGlyphs">−0.5</text>
<line x1="372.80" y1="463.35" x2="375.80" y2="463.35" stroke="#231f20" stroke-width="0.9"/>
<text x="370.40" y="465.65" font-size="6.8" text-anchor="end" fill="#333" textLength="13.96" lengthAdjust="spacingAndGlyphs">−1.0</text>
<line x1="372.80" y1="482.98" x2="375.80" y2="482.98" stroke="#231f20" stroke-width="0.9"/>
<text x="370.40" y="485.28" font-size="6.8" text-anchor="end" fill="#333" textLength="13.96" lengthAdjust="spacingAndGlyphs">−1.5</text>
<line x1="372.80" y1="502.60" x2="375.80" y2="502.60" stroke="#231f20" stroke-width="0.9"/>
<text x="370.40" y="504.90" font-size="6.8" text-anchor="end" fill="#333" textLength="13.96" lengthAdjust="spacingAndGlyphs">−2.0</text>
<text x="0" y="0" font-size="7.4" text-anchor="middle" fill="#333" stroke="#333" stroke-width="0.12" textLength="77.90" lengthAdjust="spacingAndGlyphs" transform="translate(351.30,468.30) rotate(-90)">log fraction non engrafted</text>
<line x1="379.50" y1="517.30" x2="379.50" y2="520.30" stroke="#231f20" stroke-width="0.9"/>
<text x="379.80" y="529.50" font-size="7.0" text-anchor="middle" fill="#333" textLength="3.70" lengthAdjust="spacingAndGlyphs">0</text>
<line x1="399.60" y1="517.30" x2="399.60" y2="520.30" stroke="#231f20" stroke-width="0.9"/>
<text x="399.90" y="529.50" font-size="7.0" text-anchor="middle" fill="#333" textLength="18.68" lengthAdjust="spacingAndGlyphs">2e+05</text>
<line x1="419.70" y1="517.30" x2="419.70" y2="520.30" stroke="#231f20" stroke-width="0.9"/>
<text x="420.00" y="529.50" font-size="7.0" text-anchor="middle" fill="#333" textLength="18.68" lengthAdjust="spacingAndGlyphs">4e+05</text>
<line x1="439.80" y1="517.30" x2="439.80" y2="520.30" stroke="#231f20" stroke-width="0.9"/>
<text x="440.10" y="529.50" font-size="7.0" text-anchor="middle" fill="#333" textLength="18.68" lengthAdjust="spacingAndGlyphs">6e+05</text>
<line x1="459.90" y1="517.30" x2="459.90" y2="520.30" stroke="#231f20" stroke-width="0.9"/>
<text x="460.20" y="529.50" font-size="7.0" text-anchor="middle" fill="#333" textLength="18.68" lengthAdjust="spacingAndGlyphs">8e+05</text>
<line x1="480.00" y1="517.30" x2="480.00" y2="520.30" stroke="#231f20" stroke-width="0.9"/>
<text x="480.30" y="529.50" font-size="7.0" text-anchor="middle" fill="#333" textLength="18.68" lengthAdjust="spacingAndGlyphs">1e+06</text>
<text x="430.30" y="540.90" font-size="9.0" text-anchor="middle" fill="#333" stroke="#333" stroke-width="0.05" textLength="28.00" lengthAdjust="spacingAndGlyphs">Cell dose</text>
<rect x="0.5" y="0.5" width="519" height="564" fill="none" stroke="#4a4a4a" stroke-width="1"/>
</svg>
</body></html>
